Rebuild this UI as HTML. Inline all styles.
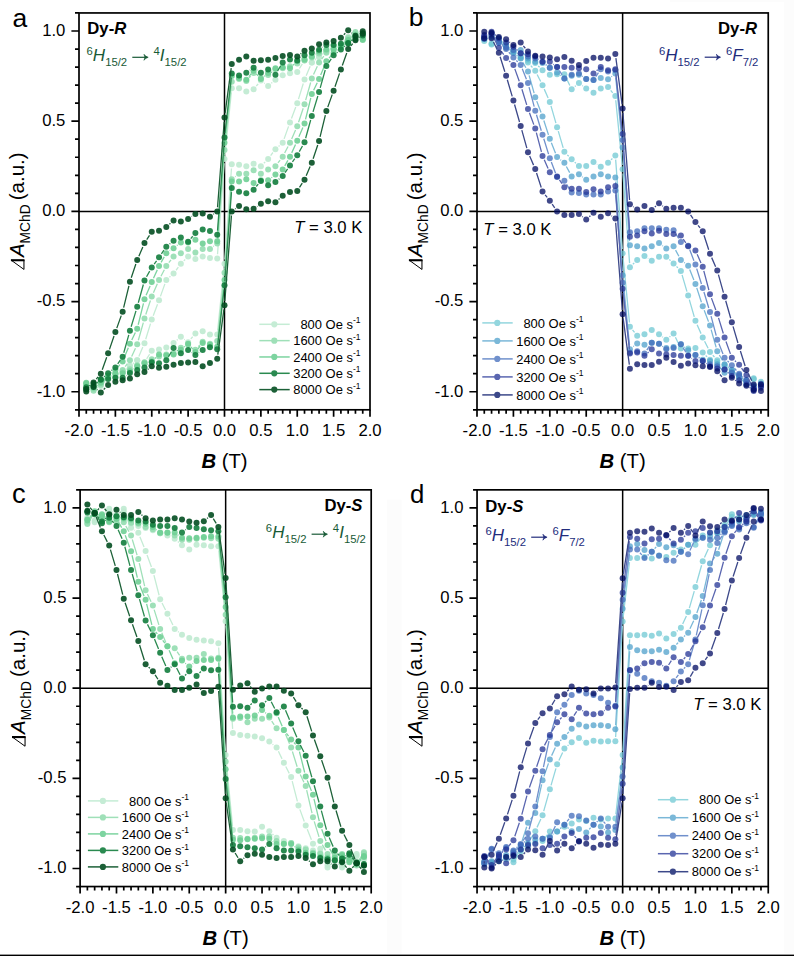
<!DOCTYPE html>
<html><head><meta charset="utf-8"><title>MChD hysteresis</title>
<style>html,body{margin:0;padding:0;background:#fff;}body{width:794px;height:956px;overflow:hidden;font-family:"Liberation Sans", sans-serif;}svg{display:block;}</style>
</head><body>
<svg width="794" height="956" viewBox="0 0 794 956" font-family='"Liberation Sans", sans-serif' fill="#000">
<rect width="794" height="956" fill="#fff"/>
<rect x="670" y="0" width="124" height="1.8" fill="#fcfcfc"/><rect x="784.2" y="0" width="9.8" height="953.6" fill="#fcfcfc"/><rect x="387" y="499.6" width="14.5" height="454" fill="#fcfcfc"/>
<rect x="0" y="954.6" width="794" height="1.4" fill="#000"/>
<path d="M224.5 12.95V409.8M79 211.38H370" stroke="#000" stroke-width="1.5" fill="none"/>
<path d="M345.23 39.76L343.85 41.16M337.53 46.66L336.99 47.06M322.98 53.16L322.44 53.56M315.9 58.82L314.97 59.62M302.34 63.8L299.44 68.53M272.25 82.45L271.32 83.25M264.78 83.5L264.24 83.1M258.17 83.81L256.3 86.04M231.35 92.35L224.93 154.88M224.19 163.25L217.53 254.27M185.18 259.47L183.8 260.87M178.34 267.23L176.09 270.24M170.4 276.36L169.47 277.17M164.89 283.88L160.44 296.35M157.54 304.24L153.23 315.68M150.51 323.62L145.71 339.22M142.83 347.1L138.84 356.51M133.79 362.83L133.33 363.15M126.56 368.11L126.02 368.51M104.93 380.99L104 381.79M103.77 382.99L105.15 381.59M111.47 376.09L112.01 375.69M126.02 369.59L126.56 369.19M133.1 363.93L134.03 363.13M146.66 358.95L149.56 354.22M176.75 340.3L177.68 339.5M184.22 339.25L184.76 339.65M190.83 338.94L192.7 336.71M217.65 330.4L224.07 267.87M224.81 259.5L231.47 168.48M263.82 163.28L265.2 161.88M270.66 155.52L272.91 152.51M278.6 146.39L279.53 145.58M284.11 138.87L288.56 126.4M291.46 118.51L295.77 107.07M298.49 99.13L303.29 83.53M306.17 75.65L310.16 66.24M315.21 59.92L315.67 59.6M322.44 54.64L322.98 54.24M344.07 41.76L345 40.96" stroke="#c5ecd5" stroke-width="1.3" fill="none"/>
<g fill="#bfead0" fill-opacity="0.9"><circle cx="362.73" cy="37.84" r="3"/><circle cx="355.45" cy="33.51" r="3"/><circle cx="348.18" cy="36.76" r="3"/><circle cx="340.9" cy="44.16" r="3"/><circle cx="333.62" cy="49.57" r="3"/><circle cx="326.35" cy="50.65" r="3"/><circle cx="319.07" cy="56.06" r="3"/><circle cx="311.8" cy="62.38" r="3"/><circle cx="304.52" cy="60.21" r="3"/><circle cx="297.25" cy="72.12" r="3"/><circle cx="289.98" cy="73.2" r="3"/><circle cx="282.7" cy="75.36" r="3"/><circle cx="275.43" cy="79.69" r="3"/><circle cx="268.15" cy="86.01" r="3"/><circle cx="260.88" cy="80.59" r="3"/><circle cx="253.6" cy="89.25" r="3"/><circle cx="246.32" cy="91.42" r="3"/><circle cx="239.05" cy="88.17" r="3"/><circle cx="231.78" cy="88.17" r="3"/><circle cx="224.5" cy="159.06" r="3"/><circle cx="217.22" cy="258.46" r="3"/><circle cx="209.95" cy="258.1" r="3"/><circle cx="202.68" cy="256.47" r="3"/><circle cx="195.4" cy="259" r="3"/><circle cx="188.12" cy="256.47" r="3"/><circle cx="180.85" cy="263.87" r="3"/><circle cx="173.57" cy="273.61" r="3"/><circle cx="166.3" cy="279.92" r="3"/><circle cx="159.03" cy="300.31" r="3"/><circle cx="151.75" cy="319.61" r="3"/><circle cx="144.47" cy="343.24" r="3"/><circle cx="137.2" cy="360.37" r="3"/><circle cx="129.93" cy="365.61" r="3"/><circle cx="122.65" cy="371.02" r="3"/><circle cx="115.38" cy="373.72" r="3"/><circle cx="108.1" cy="378.23" r="3"/><circle cx="100.82" cy="384.55" r="3"/><circle cx="93.55" cy="387.25" r="3"/><circle cx="86.27" cy="383.64" r="3"/><circle cx="86.27" cy="384.91" r="3"/><circle cx="93.55" cy="389.24" r="3"/><circle cx="100.82" cy="385.99" r="3"/><circle cx="108.1" cy="378.59" r="3"/><circle cx="115.38" cy="373.18" r="3"/><circle cx="122.65" cy="372.1" r="3"/><circle cx="129.93" cy="366.69" r="3"/><circle cx="137.2" cy="360.37" r="3"/><circle cx="144.47" cy="362.54" r="3"/><circle cx="151.75" cy="350.63" r="3"/><circle cx="159.03" cy="349.55" r="3"/><circle cx="166.3" cy="347.39" r="3"/><circle cx="173.57" cy="343.06" r="3"/><circle cx="180.85" cy="336.74" r="3"/><circle cx="188.12" cy="342.16" r="3"/><circle cx="195.4" cy="333.5" r="3"/><circle cx="202.68" cy="331.33" r="3"/><circle cx="209.95" cy="334.58" r="3"/><circle cx="217.22" cy="334.58" r="3"/><circle cx="224.5" cy="263.69" r="3"/><circle cx="231.78" cy="164.29" r="3"/><circle cx="239.05" cy="164.65" r="3"/><circle cx="246.32" cy="166.28" r="3"/><circle cx="253.6" cy="163.75" r="3"/><circle cx="260.88" cy="166.28" r="3"/><circle cx="268.15" cy="158.88" r="3"/><circle cx="275.43" cy="149.14" r="3"/><circle cx="282.7" cy="142.83" r="3"/><circle cx="289.98" cy="122.44" r="3"/><circle cx="297.25" cy="103.14" r="3"/><circle cx="304.52" cy="79.51" r="3"/><circle cx="311.8" cy="62.38" r="3"/><circle cx="319.07" cy="57.14" r="3"/><circle cx="326.35" cy="51.73" r="3"/><circle cx="333.62" cy="49.03" r="3"/><circle cx="340.9" cy="44.52" r="3"/><circle cx="348.18" cy="38.2" r="3"/><circle cx="355.45" cy="35.5" r="3"/><circle cx="362.73" cy="39.11" r="3"/></g>
<path d="M352.2 34.73L351.43 35.36M345.3 41.09L343.77 42.72M330.13 48.12L329.84 48.31M272.13 71.84L271.44 72.39M257.38 75.55L257.09 75.36M250.76 76.11L249.16 77.86M231.33 86.03L224.95 145.87M224.17 154.23L217.55 239.3M213.86 245.99L213.32 246.39M171.03 259.81L168.84 262.69M164.35 269.75L160.97 276.2M157.34 283.77L153.44 292.67M150.43 300.51L145.79 314.54M143.33 322.57L138.34 340.28M135.47 348.15L131.66 356.55M127.38 363.72L125.19 366.59M104.93 379.18L104 379.99M97.65 385.49L96.72 386.3M96.8 388.02L97.57 387.39M103.7 381.66L105.23 380.03M118.87 374.63L119.16 374.44M176.87 350.91L177.56 350.36M191.62 347.2L191.91 347.39M198.24 346.64L199.84 344.89M217.67 336.72L224.05 276.88M224.83 268.52L231.45 183.45M235.14 176.76L235.68 176.36M277.97 162.94L280.16 160.06M284.65 153L288.03 146.55M291.66 138.98L295.56 130.08M298.57 122.24L303.21 108.21M305.67 100.18L310.66 82.47M313.53 74.6L317.34 66.2M321.62 59.03L323.81 56.16M344.07 43.57L345 42.76M351.35 37.26L352.28 36.45" stroke="#9fe0b8" stroke-width="1.3" fill="none"/>
<g fill="#94ddb0" fill-opacity="0.9"><circle cx="362.73" cy="34.06" r="3"/><circle cx="355.45" cy="32.07" r="3"/><circle cx="348.18" cy="38.02" r="3"/><circle cx="340.9" cy="45.78" r="3"/><circle cx="333.62" cy="45.78" r="3"/><circle cx="326.35" cy="50.65" r="3"/><circle cx="319.07" cy="53.54" r="3"/><circle cx="311.8" cy="57.51" r="3"/><circle cx="304.52" cy="60.39" r="3"/><circle cx="297.25" cy="63.46" r="3"/><circle cx="289.98" cy="66.16" r="3"/><circle cx="282.7" cy="68.15" r="3"/><circle cx="275.43" cy="69.23" r="3"/><circle cx="268.15" cy="75" r="3"/><circle cx="260.88" cy="77.89" r="3"/><circle cx="253.6" cy="73.02" r="3"/><circle cx="246.32" cy="80.96" r="3"/><circle cx="239.05" cy="78.97" r="3"/><circle cx="231.78" cy="81.86" r="3"/><circle cx="224.5" cy="150.04" r="3"/><circle cx="217.22" cy="243.48" r="3"/><circle cx="209.95" cy="248.9" r="3"/><circle cx="202.68" cy="248.9" r="3"/><circle cx="195.4" cy="252.5" r="3"/><circle cx="188.12" cy="248.9" r="3"/><circle cx="180.85" cy="253.22" r="3"/><circle cx="173.57" cy="256.47" r="3"/><circle cx="166.3" cy="266.03" r="3"/><circle cx="159.03" cy="279.92" r="3"/><circle cx="151.75" cy="296.52" r="3"/><circle cx="144.47" cy="318.52" r="3"/><circle cx="137.2" cy="344.32" r="3"/><circle cx="129.93" cy="360.37" r="3"/><circle cx="122.65" cy="369.93" r="3"/><circle cx="115.38" cy="374.62" r="3"/><circle cx="108.1" cy="376.43" r="3"/><circle cx="100.82" cy="382.74" r="3"/><circle cx="93.55" cy="389.06" r="3"/><circle cx="86.27" cy="387.25" r="3"/><circle cx="86.27" cy="388.69" r="3"/><circle cx="93.55" cy="390.68" r="3"/><circle cx="100.82" cy="384.73" r="3"/><circle cx="108.1" cy="376.97" r="3"/><circle cx="115.38" cy="376.97" r="3"/><circle cx="122.65" cy="372.1" r="3"/><circle cx="129.93" cy="369.21" r="3"/><circle cx="137.2" cy="365.24" r="3"/><circle cx="144.47" cy="362.36" r="3"/><circle cx="151.75" cy="359.29" r="3"/><circle cx="159.03" cy="356.59" r="3"/><circle cx="166.3" cy="354.6" r="3"/><circle cx="173.57" cy="353.52" r="3"/><circle cx="180.85" cy="347.75" r="3"/><circle cx="188.12" cy="344.86" r="3"/><circle cx="195.4" cy="349.73" r="3"/><circle cx="202.68" cy="341.79" r="3"/><circle cx="209.95" cy="343.78" r="3"/><circle cx="217.22" cy="340.89" r="3"/><circle cx="224.5" cy="272.71" r="3"/><circle cx="231.78" cy="179.27" r="3"/><circle cx="239.05" cy="173.85" r="3"/><circle cx="246.32" cy="173.85" r="3"/><circle cx="253.6" cy="170.25" r="3"/><circle cx="260.88" cy="173.85" r="3"/><circle cx="268.15" cy="169.53" r="3"/><circle cx="275.43" cy="166.28" r="3"/><circle cx="282.7" cy="156.72" r="3"/><circle cx="289.98" cy="142.83" r="3"/><circle cx="297.25" cy="126.23" r="3"/><circle cx="304.52" cy="104.23" r="3"/><circle cx="311.8" cy="78.43" r="3"/><circle cx="319.07" cy="62.38" r="3"/><circle cx="326.35" cy="52.82" r="3"/><circle cx="333.62" cy="48.13" r="3"/><circle cx="340.9" cy="46.32" r="3"/><circle cx="348.18" cy="40.01" r="3"/><circle cx="355.45" cy="33.69" r="3"/><circle cx="362.73" cy="35.5" r="3"/></g>
<path d="M352 37.35L351.63 37.61M344.88 42.62L344.19 43.17M315.58 53.89L315.29 54.09M294.19 64.17L293.03 65.27M271.93 70.48L271.64 70.68M264.9 75.68L264.13 76.31M258.11 75.81L256.37 73.83M250.99 73.97L248.93 76.58M231.32 80.26L224.96 138.65M224.19 147.02L217.53 237.13M177.56 245.01L176.87 245.56M170.12 250.57L169.75 250.83M164.23 256.88L161.1 262.38M157.29 269.86L153.48 278.26M150.11 285.95L146.12 295.36M143.47 303.3L138.2 324.73M135.36 332.58L131.76 340M128.33 347.66L124.25 357.57M119.95 364.67L118.08 366.9M112.01 372.62L111.47 373.02M104.73 378.03L104.19 378.43M97.46 383.44L96.92 383.84M97 385.4L97.37 385.14M104.12 380.13L104.81 379.58M133.42 368.86L133.71 368.66M154.81 358.58L155.97 357.48M177.07 352.27L177.36 352.07M184.1 347.07L184.87 346.44M190.89 346.94L192.63 348.92M198.01 348.78L200.07 346.17M217.68 342.49L224.04 284.1M224.81 275.73L231.47 185.62M271.44 177.74L272.13 177.19M278.88 172.18L279.25 171.92M284.77 165.87L287.9 160.37M291.71 152.89L295.52 144.49M298.89 136.8L302.88 127.39M305.53 119.45L310.8 98.02M313.64 90.17L317.24 82.75M320.67 75.09L324.75 65.18M329.05 58.08L330.92 55.85M336.99 50.13L337.53 49.73M344.27 44.72L344.81 44.32M351.54 39.31L352.08 38.91" stroke="#7dd4a0" stroke-width="1.3" fill="none"/>
<g fill="#6fcf95" fill-opacity="0.9"><circle cx="362.73" cy="38.93" r="3"/><circle cx="355.45" cy="34.96" r="3"/><circle cx="348.18" cy="40.01" r="3"/><circle cx="340.9" cy="45.78" r="3"/><circle cx="333.62" cy="49.57" r="3"/><circle cx="326.35" cy="49.57" r="3"/><circle cx="319.07" cy="51.55" r="3"/><circle cx="311.8" cy="56.42" r="3"/><circle cx="304.52" cy="59.49" r="3"/><circle cx="297.25" cy="61.29" r="3"/><circle cx="289.98" cy="68.15" r="3"/><circle cx="282.7" cy="67.25" r="3"/><circle cx="275.43" cy="68.15" r="3"/><circle cx="268.15" cy="73.02" r="3"/><circle cx="260.88" cy="78.97" r="3"/><circle cx="253.6" cy="70.67" r="3"/><circle cx="246.32" cy="79.87" r="3"/><circle cx="239.05" cy="77.89" r="3"/><circle cx="231.78" cy="76.09" r="3"/><circle cx="224.5" cy="142.83" r="3"/><circle cx="217.22" cy="241.32" r="3"/><circle cx="209.95" cy="241.32" r="3"/><circle cx="202.68" cy="243.48" r="3"/><circle cx="195.4" cy="239.7" r="3"/><circle cx="188.12" cy="242.4" r="3"/><circle cx="180.85" cy="242.4" r="3"/><circle cx="173.57" cy="248.17" r="3"/><circle cx="166.3" cy="253.22" r="3"/><circle cx="159.03" cy="266.03" r="3"/><circle cx="151.75" cy="282.09" r="3"/><circle cx="144.47" cy="299.22" r="3"/><circle cx="137.2" cy="328.81" r="3"/><circle cx="129.93" cy="343.78" r="3"/><circle cx="122.65" cy="361.46" r="3"/><circle cx="115.38" cy="370.11" r="3"/><circle cx="108.1" cy="375.53" r="3"/><circle cx="100.82" cy="380.94" r="3"/><circle cx="93.55" cy="386.35" r="3"/><circle cx="86.27" cy="382.74" r="3"/><circle cx="86.27" cy="383.82" r="3"/><circle cx="93.55" cy="387.79" r="3"/><circle cx="100.82" cy="382.74" r="3"/><circle cx="108.1" cy="376.97" r="3"/><circle cx="115.38" cy="373.18" r="3"/><circle cx="122.65" cy="373.18" r="3"/><circle cx="129.93" cy="371.2" r="3"/><circle cx="137.2" cy="366.33" r="3"/><circle cx="144.47" cy="363.26" r="3"/><circle cx="151.75" cy="361.46" r="3"/><circle cx="159.03" cy="354.6" r="3"/><circle cx="166.3" cy="355.5" r="3"/><circle cx="173.57" cy="354.6" r="3"/><circle cx="180.85" cy="349.73" r="3"/><circle cx="188.12" cy="343.78" r="3"/><circle cx="195.4" cy="352.08" r="3"/><circle cx="202.68" cy="342.88" r="3"/><circle cx="209.95" cy="344.86" r="3"/><circle cx="217.22" cy="346.66" r="3"/><circle cx="224.5" cy="279.92" r="3"/><circle cx="231.78" cy="181.43" r="3"/><circle cx="239.05" cy="181.43" r="3"/><circle cx="246.32" cy="179.27" r="3"/><circle cx="253.6" cy="183.05" r="3"/><circle cx="260.88" cy="180.35" r="3"/><circle cx="268.15" cy="180.35" r="3"/><circle cx="275.43" cy="174.58" r="3"/><circle cx="282.7" cy="169.53" r="3"/><circle cx="289.98" cy="156.72" r="3"/><circle cx="297.25" cy="140.66" r="3"/><circle cx="304.52" cy="123.53" r="3"/><circle cx="311.8" cy="93.94" r="3"/><circle cx="319.07" cy="78.97" r="3"/><circle cx="326.35" cy="61.29" r="3"/><circle cx="333.62" cy="52.64" r="3"/><circle cx="340.9" cy="47.22" r="3"/><circle cx="348.18" cy="41.81" r="3"/><circle cx="355.45" cy="36.4" r="3"/><circle cx="362.73" cy="40.01" r="3"/></g>
<path d="M352.36 39.78L351.27 40.78M322.86 47.21L322.57 47.41M301.12 57.61L300.66 57.94M280.56 65.99L277.57 71.03M271.97 72.25L271.6 71.99M257.38 70.32L257.09 70.12M250.11 70.12L249.82 70.32M231.3 77.55L224.97 133.24M224.19 141.6L217.54 230.64M192.73 236.26L190.79 238.62M170.32 243.44L169.55 244.07M163.93 250.2L161.4 253.91M156.57 260.78L154.2 264.07M149.7 271.14L146.53 276.8M143.36 284.51L138.32 302.75M135.98 310.82L131.14 326.77M128.79 334.84L123.78 352.72M120.28 360.23L117.75 363.94M112.08 370.02L111.39 370.57M104.97 375.98L103.96 376.88M96.64 382.97L97.73 381.97M126.14 375.54L126.43 375.34M147.88 365.14L148.34 364.81M168.44 356.76L171.43 351.72M177.03 350.5L177.4 350.76M191.62 352.43L191.91 352.63M198.89 352.63L199.18 352.43M217.7 345.2L224.03 289.51M224.81 281.15L231.46 192.11M256.27 186.49L258.21 184.13M278.68 179.31L279.45 178.68M285.07 172.55L287.6 168.84M292.43 161.97L294.8 158.68M299.3 151.61L302.47 145.95M305.64 138.24L310.68 120M313.02 111.93L317.86 95.98M320.21 87.91L325.22 70.03M328.72 62.52L331.25 58.81M336.92 52.73L337.61 52.18M344.03 46.77L345.04 45.87" stroke="#2a8a50" stroke-width="1.3" fill="none"/>
<g fill="#127d3d" fill-opacity="0.9"><circle cx="362.73" cy="33.15" r="3"/><circle cx="355.45" cy="36.94" r="3"/><circle cx="348.18" cy="43.62" r="3"/><circle cx="340.9" cy="43.8" r="3"/><circle cx="333.62" cy="44.88" r="3"/><circle cx="326.35" cy="44.88" r="3"/><circle cx="319.07" cy="49.75" r="3"/><circle cx="311.8" cy="52.64" r="3"/><circle cx="304.52" cy="55.16" r="3"/><circle cx="297.25" cy="60.39" r="3"/><circle cx="289.98" cy="59.49" r="3"/><circle cx="282.7" cy="62.38" r="3"/><circle cx="275.43" cy="74.64" r="3"/><circle cx="268.15" cy="69.59" r="3"/><circle cx="260.88" cy="72.66" r="3"/><circle cx="253.6" cy="67.79" r="3"/><circle cx="246.32" cy="72.66" r="3"/><circle cx="239.05" cy="75.54" r="3"/><circle cx="231.78" cy="73.38" r="3"/><circle cx="224.5" cy="137.42" r="3"/><circle cx="217.22" cy="234.83" r="3"/><circle cx="209.95" cy="231.04" r="3"/><circle cx="202.68" cy="229.41" r="3"/><circle cx="195.4" cy="233.02" r="3"/><circle cx="188.12" cy="241.86" r="3"/><circle cx="180.85" cy="237.53" r="3"/><circle cx="173.57" cy="240.78" r="3"/><circle cx="166.3" cy="246.73" r="3"/><circle cx="159.03" cy="257.37" r="3"/><circle cx="151.75" cy="267.48" r="3"/><circle cx="144.47" cy="280.46" r="3"/><circle cx="137.2" cy="306.8" r="3"/><circle cx="129.93" cy="330.79" r="3"/><circle cx="122.65" cy="356.77" r="3"/><circle cx="115.38" cy="367.41" r="3"/><circle cx="108.1" cy="373.18" r="3"/><circle cx="100.82" cy="379.68" r="3"/><circle cx="93.55" cy="383.64" r="3"/><circle cx="86.27" cy="387.25" r="3"/><circle cx="86.27" cy="389.6" r="3"/><circle cx="93.55" cy="385.81" r="3"/><circle cx="100.82" cy="379.13" r="3"/><circle cx="108.1" cy="378.95" r="3"/><circle cx="115.38" cy="377.87" r="3"/><circle cx="122.65" cy="377.87" r="3"/><circle cx="129.93" cy="373" r="3"/><circle cx="137.2" cy="370.11" r="3"/><circle cx="144.47" cy="367.59" r="3"/><circle cx="151.75" cy="362.36" r="3"/><circle cx="159.03" cy="363.26" r="3"/><circle cx="166.3" cy="360.37" r="3"/><circle cx="173.57" cy="348.11" r="3"/><circle cx="180.85" cy="353.16" r="3"/><circle cx="188.12" cy="350.09" r="3"/><circle cx="195.4" cy="354.96" r="3"/><circle cx="202.68" cy="350.09" r="3"/><circle cx="209.95" cy="347.21" r="3"/><circle cx="217.22" cy="349.37" r="3"/><circle cx="224.5" cy="285.33" r="3"/><circle cx="231.78" cy="187.92" r="3"/><circle cx="239.05" cy="191.71" r="3"/><circle cx="246.32" cy="193.34" r="3"/><circle cx="253.6" cy="189.73" r="3"/><circle cx="260.88" cy="180.89" r="3"/><circle cx="268.15" cy="185.22" r="3"/><circle cx="275.43" cy="181.97" r="3"/><circle cx="282.7" cy="176.02" r="3"/><circle cx="289.98" cy="165.38" r="3"/><circle cx="297.25" cy="155.27" r="3"/><circle cx="304.52" cy="142.29" r="3"/><circle cx="311.8" cy="115.95" r="3"/><circle cx="319.07" cy="91.96" r="3"/><circle cx="326.35" cy="65.98" r="3"/><circle cx="333.62" cy="55.34" r="3"/><circle cx="340.9" cy="49.57" r="3"/><circle cx="348.18" cy="43.07" r="3"/><circle cx="355.45" cy="39.11" r="3"/><circle cx="362.73" cy="35.5" r="3"/></g>
<path d="M352.08 33.17L351.54 32.77M345.27 33.3L343.81 34.81M301.27 53.31L300.5 53.94M231.21 68.16L225.07 113.41M224.18 121.76L217.55 207.19M213.86 213.88L213.32 214.28M191.95 216.3L191.58 216.56M170.4 223.33L169.47 224.14M149.49 235.3L146.74 239.59M142.82 246.98L138.86 256.22M135.86 264.06L131.26 277.74M128.93 285.81L123.64 307.59M121.24 315.63L116.79 328.1M114.02 336.03L109.46 349.36M106.69 357.29L102.24 369.77M98.12 376.94L96.25 379.17M90.42 385.18L89.41 386.08M96.92 389.58L97.46 389.98M103.73 389.45L105.19 387.94M147.73 369.44L148.5 368.81M217.79 354.59L223.93 309.34M224.82 300.99L231.45 215.56M235.14 208.87L235.68 208.47M257.05 206.45L257.42 206.19M278.6 199.42L279.53 198.61M299.51 187.45L302.26 183.16M306.18 175.77L310.14 166.53M313.14 158.69L317.74 145.01M320.07 136.94L325.36 115.16M327.76 107.12L332.21 94.65M334.98 86.72L339.54 73.39M342.31 65.46L346.76 52.98M350.88 45.81L352.75 43.58M358.58 37.57L359.59 36.67" stroke="#1c6037" stroke-width="1.3" fill="none"/>
<g fill="#034e21" fill-opacity="0.9"><circle cx="362.73" cy="31.35" r="3"/><circle cx="355.45" cy="35.68" r="3"/><circle cx="348.18" cy="30.27" r="3"/><circle cx="340.9" cy="37.84" r="3"/><circle cx="333.62" cy="40.91" r="3"/><circle cx="326.35" cy="42.53" r="3"/><circle cx="319.07" cy="44.16" r="3"/><circle cx="311.8" cy="48.49" r="3"/><circle cx="304.52" cy="50.65" r="3"/><circle cx="297.25" cy="56.6" r="3"/><circle cx="289.98" cy="54.98" r="3"/><circle cx="282.7" cy="56.06" r="3"/><circle cx="275.43" cy="58.05" r="3"/><circle cx="268.15" cy="59.85" r="3"/><circle cx="260.88" cy="60.21" r="3"/><circle cx="253.6" cy="60.75" r="3"/><circle cx="246.32" cy="56.42" r="3"/><circle cx="239.05" cy="59.67" r="3"/><circle cx="231.78" cy="64" r="3"/><circle cx="224.5" cy="117.57" r="3"/><circle cx="217.22" cy="211.38" r="3"/><circle cx="209.95" cy="216.79" r="3"/><circle cx="202.68" cy="213.54" r="3"/><circle cx="195.4" cy="213.9" r="3"/><circle cx="188.12" cy="218.95" r="3"/><circle cx="180.85" cy="221.48" r="3"/><circle cx="173.57" cy="220.57" r="3"/><circle cx="166.3" cy="226.89" r="3"/><circle cx="159.03" cy="230.68" r="3"/><circle cx="151.75" cy="231.76" r="3"/><circle cx="144.47" cy="243.12" r="3"/><circle cx="137.2" cy="260.08" r="3"/><circle cx="129.93" cy="281.73" r="3"/><circle cx="122.65" cy="311.67" r="3"/><circle cx="115.38" cy="332.05" r="3"/><circle cx="108.1" cy="353.34" r="3"/><circle cx="100.82" cy="373.72" r="3"/><circle cx="93.55" cy="382.38" r="3"/><circle cx="86.27" cy="388.88" r="3"/><circle cx="86.27" cy="391.4" r="3"/><circle cx="93.55" cy="387.07" r="3"/><circle cx="100.82" cy="392.48" r="3"/><circle cx="108.1" cy="384.91" r="3"/><circle cx="115.38" cy="381.84" r="3"/><circle cx="122.65" cy="380.22" r="3"/><circle cx="129.93" cy="378.59" r="3"/><circle cx="137.2" cy="374.26" r="3"/><circle cx="144.47" cy="372.1" r="3"/><circle cx="151.75" cy="366.15" r="3"/><circle cx="159.03" cy="367.77" r="3"/><circle cx="166.3" cy="366.69" r="3"/><circle cx="173.57" cy="364.7" r="3"/><circle cx="180.85" cy="362.9" r="3"/><circle cx="188.12" cy="362.54" r="3"/><circle cx="195.4" cy="362" r="3"/><circle cx="202.68" cy="366.33" r="3"/><circle cx="209.95" cy="363.08" r="3"/><circle cx="217.22" cy="358.75" r="3"/><circle cx="224.5" cy="305.18" r="3"/><circle cx="231.78" cy="211.38" r="3"/><circle cx="239.05" cy="205.96" r="3"/><circle cx="246.32" cy="209.21" r="3"/><circle cx="253.6" cy="208.85" r="3"/><circle cx="260.88" cy="203.8" r="3"/><circle cx="268.15" cy="201.27" r="3"/><circle cx="275.43" cy="202.18" r="3"/><circle cx="282.7" cy="195.86" r="3"/><circle cx="289.98" cy="192.07" r="3"/><circle cx="297.25" cy="190.99" r="3"/><circle cx="304.52" cy="179.63" r="3"/><circle cx="311.8" cy="162.67" r="3"/><circle cx="319.07" cy="141.02" r="3"/><circle cx="326.35" cy="111.08" r="3"/><circle cx="333.62" cy="90.7" r="3"/><circle cx="340.9" cy="69.41" r="3"/><circle cx="348.18" cy="49.03" r="3"/><circle cx="355.45" cy="40.37" r="3"/><circle cx="362.73" cy="33.87" r="3"/></g>
<rect x="79" y="12.95" width="291" height="396.85" fill="none" stroke="#000" stroke-width="1.7"/>
<path d="M79 409.8v7M86.28 409.8v3.9M93.55 409.8v3.9M100.83 409.8v3.9M108.1 409.8v3.9M115.38 409.8v7M122.65 409.8v3.9M129.93 409.8v3.9M137.2 409.8v3.9M144.47 409.8v3.9M151.75 409.8v7M159.03 409.8v3.9M166.3 409.8v3.9M173.57 409.8v3.9M180.85 409.8v3.9M188.12 409.8v7M195.4 409.8v3.9M202.68 409.8v3.9M209.95 409.8v3.9M217.23 409.8v3.9M224.5 409.8v7M231.78 409.8v3.9M239.05 409.8v3.9M246.33 409.8v3.9M253.6 409.8v3.9M260.88 409.8v7M268.15 409.8v3.9M275.43 409.8v3.9M282.7 409.8v3.9M289.98 409.8v3.9M297.25 409.8v7M304.52 409.8v3.9M311.8 409.8v3.9M319.08 409.8v3.9M326.35 409.8v3.9M333.62 409.8v7M340.9 409.8v3.9M348.18 409.8v3.9M355.45 409.8v3.9M362.73 409.8v3.9M370 409.8v7M79 409.8h-4M79 391.76h-7.6M79 373.72h-4M79 355.68h-4M79 337.65h-4M79 319.61h-4M79 301.57h-7.6M79 283.53h-4M79 265.49h-4M79 247.45h-4M79 229.41h-4M79 211.38h-7.6M79 193.34h-4M79 175.3h-4M79 157.26h-4M79 139.22h-4M79 121.18h-7.6M79 103.14h-4M79 85.1h-4M79 67.07h-4M79 49.03h-4M79 30.99h-7.6M79 12.95h-4" stroke="#000" stroke-width="1.7" fill="none"/>
<text x="79" y="436" text-anchor="middle" font-size="16.7">-2.0</text>
<text x="115.38" y="436" text-anchor="middle" font-size="16.7">-1.5</text>
<text x="151.75" y="436" text-anchor="middle" font-size="16.7">-1.0</text>
<text x="188.12" y="436" text-anchor="middle" font-size="16.7">-0.5</text>
<text x="224.5" y="436" text-anchor="middle" font-size="16.7">0.0</text>
<text x="260.88" y="436" text-anchor="middle" font-size="16.7">0.5</text>
<text x="297.25" y="436" text-anchor="middle" font-size="16.7">1.0</text>
<text x="333.62" y="436" text-anchor="middle" font-size="16.7">1.5</text>
<text x="370" y="436" text-anchor="middle" font-size="16.7">2.0</text>
<text x="65.4" y="396.56" text-anchor="end" font-size="16.7">-1.0</text>
<text x="65.4" y="306.37" text-anchor="end" font-size="16.7">-0.5</text>
<text x="65.4" y="216.18" text-anchor="end" font-size="16.7">0.0</text>
<text x="65.4" y="125.98" text-anchor="end" font-size="16.7">0.5</text>
<text x="65.4" y="35.79" text-anchor="end" font-size="16.7">1.0</text>
<text x="224.5" y="467.8" text-anchor="middle" font-size="20.3"><tspan font-weight="bold" font-style="italic">B</tspan> (T)</text>
<g transform="translate(23.6 211.38) rotate(-90)"><path d="M-58.1 0.35H-48.6" stroke="#000" stroke-width="1.05" fill="none"/><path d="M-58 0.3L-48.9 -12.3" stroke="#000" stroke-width="1.0" fill="none"/><path d="M-48.85 0.9V-12.7" stroke="#000" stroke-width="2.1" fill="none"/><text x="-45.7" y="0" font-size="20.5"><tspan font-style="italic">A</tspan><tspan font-size="13.8" dy="6">MChD</tspan><tspan dy="-6" dx="-1.6"> (a.u.)</tspan></text></g>
<path d="M622.62 12.95V409.8M477 211.38H768.25" stroke="#000" stroke-width="1.5" fill="none"/>
<path d="M494.93 41.11L495.47 40.71M501.75 41.23L503.21 42.75M509.54 48.23L510 48.56M516.78 53.52L517.32 53.92M538.2 65.91L539.58 67.32M566.21 78.06L569.82 85.48M574.87 86.55L575.73 85.83M582.31 85.63L582.85 86.03M610.7 90.36L612.71 92.84M615.76 100.29L622.21 165.17M622.94 173.53L629.59 263.11M632.85 264.3L634.24 262.89M647.96 258.27L648.26 258.47M669.37 259.53L670.54 260.63M676.54 266.5L677.93 267.91M682.06 274.93L686.97 291.59M689.32 299.65L694.27 316.83M697.12 324.72L701.03 333.62M704.59 341.22L708.13 348.32M712.8 355.2L714.48 357.07M727.93 367.21L728.47 367.61M735.21 372.62L735.75 373.02M742.11 378.48L743.42 379.79M750.32 381.64L749.78 382.04M743.5 381.52L742.04 380M735.71 374.52L735.25 374.19M728.47 369.23L727.93 368.83M707.05 356.84L705.67 355.43M679.04 344.69L675.43 337.27M670.38 336.2L669.52 336.92M662.94 337.12L662.4 336.72M634.55 332.39L632.54 329.91M629.49 322.46L623.04 257.58M622.31 249.22L615.66 159.64M612.4 158.45L611.01 159.86M597.29 164.48L596.99 164.28M575.88 163.22L574.71 162.12M568.71 156.25L567.32 154.84M563.19 147.82L558.28 131.16M555.93 123.1L550.98 105.92M548.13 98.03L544.22 89.13M540.66 81.53L537.12 74.43M532.45 67.55L530.77 65.68M517.32 55.54L516.78 55.14M510.04 50.13L509.5 49.73M503.14 44.27L501.83 42.96" stroke="#93d6de" stroke-width="1.3" fill="none"/>
<g fill="#6fc8d3" fill-opacity="0.75"><circle cx="484.28" cy="39.29" r="3"/><circle cx="491.56" cy="43.62" r="3"/><circle cx="498.84" cy="38.2" r="3"/><circle cx="506.12" cy="45.78" r="3"/><circle cx="513.41" cy="51.01" r="3"/><circle cx="520.69" cy="56.42" r="3"/><circle cx="527.97" cy="60.75" r="3"/><circle cx="535.25" cy="62.92" r="3"/><circle cx="542.53" cy="70.31" r="3"/><circle cx="549.81" cy="74.64" r="3"/><circle cx="557.09" cy="74.28" r="3"/><circle cx="564.38" cy="74.28" r="3"/><circle cx="571.66" cy="89.25" r="3"/><circle cx="578.94" cy="83.12" r="3"/><circle cx="586.22" cy="88.53" r="3"/><circle cx="593.5" cy="92.86" r="3"/><circle cx="600.78" cy="88.53" r="3"/><circle cx="608.06" cy="87.09" r="3"/><circle cx="615.34" cy="96.11" r="3"/><circle cx="622.62" cy="169.34" r="3"/><circle cx="629.91" cy="267.29" r="3"/><circle cx="637.19" cy="259.9" r="3"/><circle cx="644.47" cy="255.93" r="3"/><circle cx="651.75" cy="260.8" r="3"/><circle cx="659.03" cy="256.65" r="3"/><circle cx="666.31" cy="256.65" r="3"/><circle cx="673.59" cy="263.51" r="3"/><circle cx="680.88" cy="270.9" r="3"/><circle cx="688.16" cy="295.62" r="3"/><circle cx="695.44" cy="320.87" r="3"/><circle cx="702.72" cy="337.47" r="3"/><circle cx="710" cy="352.08" r="3"/><circle cx="717.28" cy="360.19" r="3"/><circle cx="724.56" cy="364.7" r="3"/><circle cx="731.84" cy="370.11" r="3"/><circle cx="739.12" cy="375.53" r="3"/><circle cx="746.41" cy="382.74" r="3"/><circle cx="753.69" cy="378.23" r="3"/><circle cx="760.97" cy="381.84" r="3"/><circle cx="760.97" cy="383.46" r="3"/><circle cx="753.69" cy="379.13" r="3"/><circle cx="746.41" cy="384.55" r="3"/><circle cx="739.12" cy="376.97" r="3"/><circle cx="731.84" cy="371.74" r="3"/><circle cx="724.56" cy="366.33" r="3"/><circle cx="717.28" cy="362" r="3"/><circle cx="710" cy="359.83" r="3"/><circle cx="702.72" cy="352.44" r="3"/><circle cx="695.44" cy="348.11" r="3"/><circle cx="688.16" cy="348.47" r="3"/><circle cx="680.88" cy="348.47" r="3"/><circle cx="673.59" cy="333.5" r="3"/><circle cx="666.31" cy="339.63" r="3"/><circle cx="659.03" cy="334.22" r="3"/><circle cx="651.75" cy="329.89" r="3"/><circle cx="644.47" cy="334.22" r="3"/><circle cx="637.19" cy="335.66" r="3"/><circle cx="629.91" cy="326.64" r="3"/><circle cx="622.62" cy="253.41" r="3"/><circle cx="615.34" cy="155.46" r="3"/><circle cx="608.06" cy="162.85" r="3"/><circle cx="600.78" cy="166.82" r="3"/><circle cx="593.5" cy="161.95" r="3"/><circle cx="586.22" cy="166.1" r="3"/><circle cx="578.94" cy="166.1" r="3"/><circle cx="571.66" cy="159.24" r="3"/><circle cx="564.38" cy="151.85" r="3"/><circle cx="557.09" cy="127.13" r="3"/><circle cx="549.81" cy="101.88" r="3"/><circle cx="542.53" cy="85.28" r="3"/><circle cx="535.25" cy="70.67" r="3"/><circle cx="527.97" cy="62.56" r="3"/><circle cx="520.69" cy="58.05" r="3"/><circle cx="513.41" cy="52.64" r="3"/><circle cx="506.12" cy="47.22" r="3"/><circle cx="498.84" cy="40.01" r="3"/><circle cx="491.56" cy="44.52" r="3"/><circle cx="484.28" cy="40.91" r="3"/></g>
<path d="M494.93 38.54L495.47 38.95M509.3 47.45L510.23 48.26M523.39 53.14L525.27 55.37M546.02 65.25L546.32 65.45M560.35 75.14L561.12 75.77M611.35 76.72L612.05 76.17M615.76 77.74L622.21 143.34M622.94 151.71L629.59 241.1M662.4 245.63L662.94 246.03M675.58 250.07L678.88 256.2M684.17 262.51L684.87 263.06M689.71 269.57L693.88 279.99M696.74 287.88L701.42 302.26M704.2 310.19L708.52 321.63M711.14 329.6L716.14 347.31M719.36 355.01L722.49 360.51M727.81 366.82L728.59 367.46M735.02 372.87L735.95 373.68M749.78 382.54L750.32 382.94M750.32 384.21L749.78 383.8M735.95 375.3L735.02 374.49M721.86 369.61L719.98 367.38M699.23 357.5L698.93 357.3M684.9 347.61L684.13 346.98M633.9 346.03L633.2 346.58M629.49 345.01L623.04 279.41M622.31 271.04L615.66 181.65M582.85 177.12L582.31 176.72M569.67 172.68L566.37 166.55M561.08 160.24L560.38 159.69M555.54 153.18L551.37 142.76M548.51 134.87L543.83 120.49M541.05 112.56L536.73 101.12M534.11 93.15L529.11 75.44M525.89 67.74L522.76 62.24M517.44 55.93L516.66 55.29M510.23 49.88L509.3 49.07M495.47 40.21L494.93 39.81" stroke="#7bb8d8" stroke-width="1.3" fill="none"/>
<g fill="#4fa0cb" fill-opacity="0.75"><circle cx="484.28" cy="37.12" r="3"/><circle cx="491.56" cy="36.04" r="3"/><circle cx="498.84" cy="41.45" r="3"/><circle cx="506.12" cy="44.7" r="3"/><circle cx="513.41" cy="51.01" r="3"/><circle cx="520.69" cy="49.93" r="3"/><circle cx="527.97" cy="58.59" r="3"/><circle cx="535.25" cy="61.83" r="3"/><circle cx="542.53" cy="62.92" r="3"/><circle cx="549.81" cy="67.79" r="3"/><circle cx="557.09" cy="72.48" r="3"/><circle cx="564.38" cy="78.43" r="3"/><circle cx="571.66" cy="75.72" r="3"/><circle cx="578.94" cy="74.64" r="3"/><circle cx="586.22" cy="78.97" r="3"/><circle cx="593.5" cy="80.05" r="3"/><circle cx="600.78" cy="77.89" r="3"/><circle cx="608.06" cy="79.33" r="3"/><circle cx="615.34" cy="73.56" r="3"/><circle cx="622.62" cy="147.52" r="3"/><circle cx="629.91" cy="245.29" r="3"/><circle cx="637.19" cy="246.37" r="3"/><circle cx="644.47" cy="248.53" r="3"/><circle cx="651.75" cy="246.37" r="3"/><circle cx="659.03" cy="243.12" r="3"/><circle cx="666.31" cy="248.53" r="3"/><circle cx="673.59" cy="246.37" r="3"/><circle cx="680.88" cy="259.9" r="3"/><circle cx="688.16" cy="265.67" r="3"/><circle cx="695.44" cy="283.89" r="3"/><circle cx="702.72" cy="306.26" r="3"/><circle cx="710" cy="325.56" r="3"/><circle cx="717.28" cy="351.35" r="3"/><circle cx="724.56" cy="364.16" r="3"/><circle cx="731.84" cy="370.11" r="3"/><circle cx="739.12" cy="376.43" r="3"/><circle cx="746.41" cy="380.04" r="3"/><circle cx="753.69" cy="385.45" r="3"/><circle cx="760.97" cy="384.55" r="3"/><circle cx="760.97" cy="385.63" r="3"/><circle cx="753.69" cy="386.71" r="3"/><circle cx="746.41" cy="381.3" r="3"/><circle cx="739.12" cy="378.05" r="3"/><circle cx="731.84" cy="371.74" r="3"/><circle cx="724.56" cy="372.82" r="3"/><circle cx="717.28" cy="364.16" r="3"/><circle cx="710" cy="360.92" r="3"/><circle cx="702.72" cy="359.83" r="3"/><circle cx="695.44" cy="354.96" r="3"/><circle cx="688.16" cy="350.27" r="3"/><circle cx="680.88" cy="344.32" r="3"/><circle cx="673.59" cy="347.03" r="3"/><circle cx="666.31" cy="348.11" r="3"/><circle cx="659.03" cy="343.78" r="3"/><circle cx="651.75" cy="342.7" r="3"/><circle cx="644.47" cy="344.86" r="3"/><circle cx="637.19" cy="343.42" r="3"/><circle cx="629.91" cy="349.19" r="3"/><circle cx="622.62" cy="275.23" r="3"/><circle cx="615.34" cy="177.46" r="3"/><circle cx="608.06" cy="176.38" r="3"/><circle cx="600.78" cy="174.22" r="3"/><circle cx="593.5" cy="176.38" r="3"/><circle cx="586.22" cy="179.63" r="3"/><circle cx="578.94" cy="174.22" r="3"/><circle cx="571.66" cy="176.38" r="3"/><circle cx="564.38" cy="162.85" r="3"/><circle cx="557.09" cy="157.08" r="3"/><circle cx="549.81" cy="138.86" r="3"/><circle cx="542.53" cy="116.49" r="3"/><circle cx="535.25" cy="97.19" r="3"/><circle cx="527.97" cy="71.4" r="3"/><circle cx="520.69" cy="58.59" r="3"/><circle cx="513.41" cy="52.64" r="3"/><circle cx="506.12" cy="46.32" r="3"/><circle cx="498.84" cy="42.71" r="3"/><circle cx="491.56" cy="37.3" r="3"/><circle cx="484.28" cy="38.2" r="3"/></g>
<path d="M494.47 36.9L495.93 38.42M502.02 44.2L502.95 45.01M545.78 64.49L546.56 65.13M559.36 70.6L562.11 74.89M582.31 76.07L582.85 76.47M595.84 76.57L598.44 72.72M615.78 74.49L622.19 135.76M622.96 144.13L629.58 228.11M675.81 233.88L678.66 238.47M689.66 249.57L693.93 260.67M696.68 268.6L701.47 284.03M703.94 292.06L708.78 308.01M711.07 316.09L716.21 335.57M718.84 343.53L723 353.95M727.51 360.84L728.9 362.25M734.58 368.43L736.39 370.54M742.3 376.47L743.23 377.28M749.39 382.99L750.7 384.3M750.78 385.85L749.32 384.33M743.23 378.55L742.3 377.74M699.47 358.26L698.69 357.62M685.89 352.15L683.14 347.86M662.94 346.68L662.4 346.28M649.41 346.18L646.81 350.03M629.47 348.26L623.06 286.99M622.29 278.62L615.67 194.64M569.44 188.87L566.59 184.28M555.59 173.18L551.32 162.08M548.57 154.15L543.78 138.72M541.31 130.69L536.47 114.74M534.18 106.66L529.04 87.18M526.41 79.22L522.25 68.8M517.74 61.91L516.35 60.5M510.67 54.32L508.86 52.21M502.95 46.28L502.02 45.47M495.86 39.76L494.55 38.45" stroke="#7090cc" stroke-width="1.3" fill="none"/>
<g fill="#406bbb" fill-opacity="0.75"><circle cx="484.28" cy="38.2" r="3"/><circle cx="491.56" cy="33.87" r="3"/><circle cx="498.84" cy="41.45" r="3"/><circle cx="506.12" cy="47.76" r="3"/><circle cx="513.41" cy="49.93" r="3"/><circle cx="520.69" cy="53.18" r="3"/><circle cx="527.97" cy="56.42" r="3"/><circle cx="535.25" cy="58.59" r="3"/><circle cx="542.53" cy="61.83" r="3"/><circle cx="549.81" cy="67.79" r="3"/><circle cx="557.09" cy="67.07" r="3"/><circle cx="564.38" cy="78.43" r="3"/><circle cx="571.66" cy="74.64" r="3"/><circle cx="578.94" cy="73.56" r="3"/><circle cx="586.22" cy="78.97" r="3"/><circle cx="593.5" cy="80.05" r="3"/><circle cx="600.78" cy="69.23" r="3"/><circle cx="608.06" cy="71.4" r="3"/><circle cx="615.34" cy="70.31" r="3"/><circle cx="622.62" cy="139.94" r="3"/><circle cx="629.91" cy="232.3" r="3"/><circle cx="637.19" cy="231.22" r="3"/><circle cx="644.47" cy="228.15" r="3"/><circle cx="651.75" cy="228.15" r="3"/><circle cx="659.03" cy="228.15" r="3"/><circle cx="666.31" cy="229.77" r="3"/><circle cx="673.59" cy="230.32" r="3"/><circle cx="680.88" cy="242.04" r="3"/><circle cx="688.16" cy="245.65" r="3"/><circle cx="695.44" cy="264.59" r="3"/><circle cx="702.72" cy="288.04" r="3"/><circle cx="710" cy="312.03" r="3"/><circle cx="717.28" cy="339.63" r="3"/><circle cx="724.56" cy="357.85" r="3"/><circle cx="731.84" cy="365.24" r="3"/><circle cx="739.12" cy="373.72" r="3"/><circle cx="746.41" cy="380.04" r="3"/><circle cx="753.69" cy="387.25" r="3"/><circle cx="760.97" cy="383.64" r="3"/><circle cx="760.97" cy="384.55" r="3"/><circle cx="753.69" cy="388.88" r="3"/><circle cx="746.41" cy="381.3" r="3"/><circle cx="739.12" cy="374.99" r="3"/><circle cx="731.84" cy="372.82" r="3"/><circle cx="724.56" cy="369.57" r="3"/><circle cx="717.28" cy="366.33" r="3"/><circle cx="710" cy="364.16" r="3"/><circle cx="702.72" cy="360.92" r="3"/><circle cx="695.44" cy="354.96" r="3"/><circle cx="688.16" cy="355.68" r="3"/><circle cx="680.88" cy="344.32" r="3"/><circle cx="673.59" cy="348.11" r="3"/><circle cx="666.31" cy="349.19" r="3"/><circle cx="659.03" cy="343.78" r="3"/><circle cx="651.75" cy="342.7" r="3"/><circle cx="644.47" cy="353.52" r="3"/><circle cx="637.19" cy="351.35" r="3"/><circle cx="629.91" cy="352.44" r="3"/><circle cx="622.62" cy="282.81" r="3"/><circle cx="615.34" cy="190.45" r="3"/><circle cx="608.06" cy="191.53" r="3"/><circle cx="600.78" cy="194.6" r="3"/><circle cx="593.5" cy="194.6" r="3"/><circle cx="586.22" cy="194.6" r="3"/><circle cx="578.94" cy="192.98" r="3"/><circle cx="571.66" cy="192.43" r="3"/><circle cx="564.38" cy="180.71" r="3"/><circle cx="557.09" cy="177.1" r="3"/><circle cx="549.81" cy="158.16" r="3"/><circle cx="542.53" cy="134.71" r="3"/><circle cx="535.25" cy="110.72" r="3"/><circle cx="527.97" cy="83.12" r="3"/><circle cx="520.69" cy="64.9" r="3"/><circle cx="513.41" cy="57.51" r="3"/><circle cx="506.12" cy="49.03" r="3"/><circle cx="498.84" cy="42.71" r="3"/><circle cx="491.56" cy="35.5" r="3"/><circle cx="484.28" cy="39.11" r="3"/></g>
<path d="M494.7 34.51L495.71 35.41M516.54 49.48L517.55 50.38M538.62 58.93L539.16 59.33M553.22 64.29L553.68 64.62M596.63 70.76L597.65 69.86M615.81 73.4L622.16 129.82M622.92 138.18L629.61 232.44M683.22 239.03L685.81 242.89M697.16 254.35L701 262.92M703.8 270.81L708.92 290.11M711.46 298.11L715.82 309.9M718.52 317.85L723.33 333.45M725.98 341.42L730.43 353.89M734.9 360.73L736.07 361.82M741.55 368.13L743.98 371.56M748.34 378.72L751.76 385.33M750.55 388.24L749.54 387.34M728.71 373.27L727.7 372.37M706.63 363.82L706.09 363.42M692.03 358.46L691.57 358.13M648.62 351.99L647.6 352.89M629.44 349.35L623.09 292.93M622.33 284.57L615.64 190.31M562.03 183.72L559.44 179.86M548.09 168.4L544.25 159.83M541.45 151.94L536.33 132.64M533.79 124.64L529.43 112.85M526.73 104.9L521.92 89.3M519.27 81.33L514.82 68.86M510.35 62.02L509.18 60.93M503.7 54.62L501.27 51.19M496.91 44.03L493.49 37.42" stroke="#5a66b0" stroke-width="1.3" fill="none"/>
<g fill="#233396" fill-opacity="0.75"><circle cx="484.28" cy="34.96" r="3"/><circle cx="491.56" cy="31.71" r="3"/><circle cx="498.84" cy="38.2" r="3"/><circle cx="506.12" cy="42.53" r="3"/><circle cx="513.41" cy="46.68" r="3"/><circle cx="520.69" cy="53.18" r="3"/><circle cx="527.97" cy="54.26" r="3"/><circle cx="535.25" cy="56.42" r="3"/><circle cx="542.53" cy="61.83" r="3"/><circle cx="549.81" cy="61.83" r="3"/><circle cx="557.09" cy="67.07" r="3"/><circle cx="564.38" cy="67.07" r="3"/><circle cx="571.66" cy="67.79" r="3"/><circle cx="578.94" cy="68.15" r="3"/><circle cx="586.22" cy="69.23" r="3"/><circle cx="593.5" cy="73.56" r="3"/><circle cx="600.78" cy="67.07" r="3"/><circle cx="608.06" cy="70.31" r="3"/><circle cx="615.34" cy="69.23" r="3"/><circle cx="622.62" cy="133.99" r="3"/><circle cx="629.91" cy="236.63" r="3"/><circle cx="637.19" cy="235.55" r="3"/><circle cx="644.47" cy="231.22" r="3"/><circle cx="651.75" cy="233.38" r="3"/><circle cx="659.03" cy="230.68" r="3"/><circle cx="666.31" cy="234.1" r="3"/><circle cx="673.59" cy="234.1" r="3"/><circle cx="680.88" cy="235.55" r="3"/><circle cx="688.16" cy="246.37" r="3"/><circle cx="695.44" cy="250.52" r="3"/><circle cx="702.72" cy="266.75" r="3"/><circle cx="710" cy="294.17" r="3"/><circle cx="717.28" cy="313.83" r="3"/><circle cx="724.56" cy="337.47" r="3"/><circle cx="731.84" cy="357.85" r="3"/><circle cx="739.12" cy="364.7" r="3"/><circle cx="746.41" cy="374.99" r="3"/><circle cx="753.69" cy="389.06" r="3"/><circle cx="760.97" cy="386.35" r="3"/><circle cx="760.97" cy="387.79" r="3"/><circle cx="753.69" cy="391.04" r="3"/><circle cx="746.41" cy="384.55" r="3"/><circle cx="739.12" cy="380.22" r="3"/><circle cx="731.84" cy="376.07" r="3"/><circle cx="724.56" cy="369.57" r="3"/><circle cx="717.28" cy="368.49" r="3"/><circle cx="710" cy="366.33" r="3"/><circle cx="702.72" cy="360.92" r="3"/><circle cx="695.44" cy="360.92" r="3"/><circle cx="688.16" cy="355.68" r="3"/><circle cx="680.88" cy="355.68" r="3"/><circle cx="673.59" cy="354.96" r="3"/><circle cx="666.31" cy="354.6" r="3"/><circle cx="659.03" cy="353.52" r="3"/><circle cx="651.75" cy="349.19" r="3"/><circle cx="644.47" cy="355.68" r="3"/><circle cx="637.19" cy="352.44" r="3"/><circle cx="629.91" cy="353.52" r="3"/><circle cx="622.62" cy="288.76" r="3"/><circle cx="615.34" cy="186.12" r="3"/><circle cx="608.06" cy="187.2" r="3"/><circle cx="600.78" cy="191.53" r="3"/><circle cx="593.5" cy="189.37" r="3"/><circle cx="586.22" cy="192.07" r="3"/><circle cx="578.94" cy="188.65" r="3"/><circle cx="571.66" cy="188.65" r="3"/><circle cx="564.38" cy="187.2" r="3"/><circle cx="557.09" cy="176.38" r="3"/><circle cx="549.81" cy="172.23" r="3"/><circle cx="542.53" cy="156" r="3"/><circle cx="535.25" cy="128.58" r="3"/><circle cx="527.97" cy="108.92" r="3"/><circle cx="520.69" cy="85.28" r="3"/><circle cx="513.41" cy="64.9" r="3"/><circle cx="506.12" cy="58.05" r="3"/><circle cx="498.84" cy="47.76" r="3"/><circle cx="491.56" cy="33.69" r="3"/><circle cx="484.28" cy="36.4" r="3"/></g>
<path d="M509.42 41.9L510.12 42.45M523.33 45.8L525.33 48.28M615.9 58.06L622.07 104.39M622.94 112.74L629.59 199.97M633.32 206.61L633.78 206.94M654.85 207.09L655.94 206.1M662.36 205.82L662.98 206.29M690.53 214.84L693.07 218.55M698.04 225.31L700.11 227.92M704.01 235.21L708.71 249.77M711.67 257.62L715.61 266.69M718.41 274.59L723.44 292.65M725.71 300.74L730.7 318.27M733.03 326.34L737.94 343M740.4 351.03L745.13 365.93M748.28 373.69L751.81 380.79M735.83 380.85L735.13 380.3M721.92 376.95L719.92 374.47M629.35 364.69L623.18 318.36M622.31 310.01L615.66 222.78M611.93 216.14L611.47 215.81M590.4 215.66L589.31 216.65M582.89 216.93L582.27 216.46M554.72 207.91L552.18 204.2M547.21 197.44L545.14 194.83M541.24 187.54L536.54 172.98M533.58 165.13L529.64 156.06M526.84 148.16L521.81 130.1M519.54 122.01L514.55 104.48M512.22 96.41L507.31 79.75M504.85 71.72L500.12 56.82M496.97 49.06L493.44 41.96" stroke="#3c4889" stroke-width="1.3" fill="none"/>
<g fill="#000b62" fill-opacity="0.75"><circle cx="484.28" cy="31.71" r="3"/><circle cx="491.56" cy="32.79" r="3"/><circle cx="498.84" cy="37.12" r="3"/><circle cx="506.12" cy="39.29" r="3"/><circle cx="513.41" cy="45.06" r="3"/><circle cx="520.69" cy="42.53" r="3"/><circle cx="527.97" cy="51.55" r="3"/><circle cx="535.25" cy="55.7" r="3"/><circle cx="542.53" cy="56.42" r="3"/><circle cx="549.81" cy="57.51" r="3"/><circle cx="557.09" cy="59.13" r="3"/><circle cx="564.38" cy="56.96" r="3"/><circle cx="571.66" cy="60.75" r="3"/><circle cx="578.94" cy="64.9" r="3"/><circle cx="586.22" cy="61.11" r="3"/><circle cx="593.5" cy="57.87" r="3"/><circle cx="600.78" cy="57.87" r="3"/><circle cx="608.06" cy="58.59" r="3"/><circle cx="615.34" cy="53.9" r="3"/><circle cx="622.62" cy="108.55" r="3"/><circle cx="629.91" cy="204.16" r="3"/><circle cx="637.19" cy="209.39" r="3"/><circle cx="644.47" cy="205.96" r="3"/><circle cx="651.75" cy="209.93" r="3"/><circle cx="659.03" cy="203.26" r="3"/><circle cx="666.31" cy="208.85" r="3"/><circle cx="673.59" cy="207.77" r="3"/><circle cx="680.88" cy="207.77" r="3"/><circle cx="688.16" cy="211.38" r="3"/><circle cx="695.44" cy="222.02" r="3"/><circle cx="702.72" cy="231.22" r="3"/><circle cx="710" cy="253.77" r="3"/><circle cx="717.28" cy="270.54" r="3"/><circle cx="724.56" cy="296.7" r="3"/><circle cx="731.84" cy="322.31" r="3"/><circle cx="739.12" cy="347.03" r="3"/><circle cx="746.41" cy="369.93" r="3"/><circle cx="753.69" cy="384.55" r="3"/><circle cx="760.97" cy="384.55" r="3"/><circle cx="760.97" cy="391.04" r="3"/><circle cx="753.69" cy="389.96" r="3"/><circle cx="746.41" cy="385.63" r="3"/><circle cx="739.12" cy="383.46" r="3"/><circle cx="731.84" cy="377.69" r="3"/><circle cx="724.56" cy="380.22" r="3"/><circle cx="717.28" cy="371.2" r="3"/><circle cx="710" cy="367.05" r="3"/><circle cx="702.72" cy="366.33" r="3"/><circle cx="695.44" cy="365.24" r="3"/><circle cx="688.16" cy="363.62" r="3"/><circle cx="680.88" cy="365.79" r="3"/><circle cx="673.59" cy="362" r="3"/><circle cx="666.31" cy="357.85" r="3"/><circle cx="659.03" cy="361.64" r="3"/><circle cx="651.75" cy="364.88" r="3"/><circle cx="644.47" cy="364.88" r="3"/><circle cx="637.19" cy="364.16" r="3"/><circle cx="629.91" cy="368.85" r="3"/><circle cx="622.62" cy="314.2" r="3"/><circle cx="615.34" cy="218.59" r="3"/><circle cx="608.06" cy="213.36" r="3"/><circle cx="600.78" cy="216.79" r="3"/><circle cx="593.5" cy="212.82" r="3"/><circle cx="586.22" cy="219.49" r="3"/><circle cx="578.94" cy="213.9" r="3"/><circle cx="571.66" cy="214.98" r="3"/><circle cx="564.38" cy="214.98" r="3"/><circle cx="557.09" cy="211.38" r="3"/><circle cx="549.81" cy="200.73" r="3"/><circle cx="542.53" cy="191.53" r="3"/><circle cx="535.25" cy="168.98" r="3"/><circle cx="527.97" cy="152.21" r="3"/><circle cx="520.69" cy="126.05" r="3"/><circle cx="513.41" cy="100.44" r="3"/><circle cx="506.12" cy="75.72" r="3"/><circle cx="498.84" cy="52.82" r="3"/><circle cx="491.56" cy="38.2" r="3"/><circle cx="484.28" cy="38.2" r="3"/></g>
<rect x="477" y="12.95" width="291.25" height="396.85" fill="none" stroke="#000" stroke-width="1.7"/>
<path d="M477 409.8v7M484.28 409.8v3.9M491.56 409.8v3.9M498.84 409.8v3.9M506.12 409.8v3.9M513.41 409.8v7M520.69 409.8v3.9M527.97 409.8v3.9M535.25 409.8v3.9M542.53 409.8v3.9M549.81 409.8v7M557.09 409.8v3.9M564.38 409.8v3.9M571.66 409.8v3.9M578.94 409.8v3.9M586.22 409.8v7M593.5 409.8v3.9M600.78 409.8v3.9M608.06 409.8v3.9M615.34 409.8v3.9M622.62 409.8v7M629.91 409.8v3.9M637.19 409.8v3.9M644.47 409.8v3.9M651.75 409.8v3.9M659.03 409.8v7M666.31 409.8v3.9M673.59 409.8v3.9M680.88 409.8v3.9M688.16 409.8v3.9M695.44 409.8v7M702.72 409.8v3.9M710 409.8v3.9M717.28 409.8v3.9M724.56 409.8v3.9M731.84 409.8v7M739.12 409.8v3.9M746.41 409.8v3.9M753.69 409.8v3.9M760.97 409.8v3.9M768.25 409.8v7M477 409.8h-4M477 391.76h-7.6M477 373.72h-4M477 355.68h-4M477 337.65h-4M477 319.61h-4M477 301.57h-7.6M477 283.53h-4M477 265.49h-4M477 247.45h-4M477 229.41h-4M477 211.38h-7.6M477 193.34h-4M477 175.3h-4M477 157.26h-4M477 139.22h-4M477 121.18h-7.6M477 103.14h-4M477 85.1h-4M477 67.07h-4M477 49.03h-4M477 30.99h-7.6M477 12.95h-4" stroke="#000" stroke-width="1.7" fill="none"/>
<text x="477" y="436" text-anchor="middle" font-size="16.7">-2.0</text>
<text x="513.41" y="436" text-anchor="middle" font-size="16.7">-1.5</text>
<text x="549.81" y="436" text-anchor="middle" font-size="16.7">-1.0</text>
<text x="586.22" y="436" text-anchor="middle" font-size="16.7">-0.5</text>
<text x="622.62" y="436" text-anchor="middle" font-size="16.7">0.0</text>
<text x="659.03" y="436" text-anchor="middle" font-size="16.7">0.5</text>
<text x="695.44" y="436" text-anchor="middle" font-size="16.7">1.0</text>
<text x="731.84" y="436" text-anchor="middle" font-size="16.7">1.5</text>
<text x="768.25" y="436" text-anchor="middle" font-size="16.7">2.0</text>
<text x="463.4" y="396.56" text-anchor="end" font-size="16.7">-1.0</text>
<text x="463.4" y="306.37" text-anchor="end" font-size="16.7">-0.5</text>
<text x="463.4" y="216.18" text-anchor="end" font-size="16.7">0.0</text>
<text x="463.4" y="125.98" text-anchor="end" font-size="16.7">0.5</text>
<text x="463.4" y="35.79" text-anchor="end" font-size="16.7">1.0</text>
<text x="622.62" y="467.8" text-anchor="middle" font-size="20.3"><tspan font-weight="bold" font-style="italic">B</tspan> (T)</text>
<g transform="translate(421.6 211.38) rotate(-90)"><path d="M-58.1 0.35H-48.6" stroke="#000" stroke-width="1.05" fill="none"/><path d="M-58 0.3L-48.9 -12.3" stroke="#000" stroke-width="1.0" fill="none"/><path d="M-48.85 0.9V-12.7" stroke="#000" stroke-width="2.1" fill="none"/><text x="-45.7" y="0" font-size="20.5"><tspan font-style="italic">A</tspan><tspan font-size="13.8" dy="6">MChD</tspan><tspan dy="-6" dx="-1.6"> (a.u.)</tspan></text></g>
<path d="M225.65 489.85V886.55M80.1 688.2H371.2" stroke="#000" stroke-width="1.5" fill="none"/>
<path d="M98.03 518L98.56 517.6M105.11 512.34L106.04 511.54M112.38 511.54L113.31 512.34M119.66 512.34L120.59 511.54M125.6 512.56L129.21 519.97M177.84 541.51L178.85 542.41M218.78 550.47L225.24 617.12M225.92 625.49L232.65 728.91M272.57 744.23L273.34 744.87M278.41 751.31L282.05 758.89M285.76 766.42L289.26 773.35M292.19 781.16L297.38 801.34M299.86 809.35L304.27 821.47M307.26 829.32L311.42 839.73M316.43 846.03L316.81 846.29M321.98 852.52L325.82 861.08M330.91 862.41L331.44 862.01M337.99 862.25L338.92 863.06M345.26 863.06L346.19 862.25M352.74 857L353.27 856.6M353.27 858.4L352.74 858.8M346.19 864.06L345.26 864.86M338.92 864.86L337.99 864.06M331.64 864.06L330.71 864.86M325.7 863.84L322.09 856.43M273.46 834.89L272.45 833.99M232.52 825.93L226.06 759.28M225.38 750.91L218.65 647.49M178.73 632.17L177.96 631.53M172.89 625.09L169.25 617.51M165.54 609.98L162.04 603.05M159.11 595.24L153.92 575.06M151.44 567.05L147.03 554.93M144.04 547.08L139.88 536.67M134.87 530.37L134.49 530.11M129.32 523.88L125.48 515.32M120.39 513.99L119.86 514.39M113.31 514.15L112.38 513.34M106.04 513.34L105.11 514.15M98.56 519.4L98.03 519.8" stroke="#c5ecd5" stroke-width="1.3" fill="none"/>
<g fill="#bfead0" fill-opacity="0.9"><circle cx="87.38" cy="517.26" r="3"/><circle cx="94.65" cy="520.5" r="3"/><circle cx="101.93" cy="515.09" r="3"/><circle cx="109.21" cy="508.78" r="3"/><circle cx="116.49" cy="515.09" r="3"/><circle cx="123.76" cy="508.78" r="3"/><circle cx="131.04" cy="523.75" r="3"/><circle cx="138.32" cy="525.91" r="3"/><circle cx="145.6" cy="528.08" r="3"/><circle cx="152.88" cy="530.24" r="3"/><circle cx="160.15" cy="533.31" r="3"/><circle cx="167.43" cy="535.47" r="3"/><circle cx="174.71" cy="538.72" r="3"/><circle cx="181.99" cy="545.21" r="3"/><circle cx="189.26" cy="549.54" r="3"/><circle cx="196.54" cy="544.85" r="3"/><circle cx="203.82" cy="545.21" r="3"/><circle cx="211.09" cy="546.29" r="3"/><circle cx="218.37" cy="546.29" r="3"/><circle cx="225.65" cy="621.3" r="3"/><circle cx="232.93" cy="733.1" r="3"/><circle cx="240.21" cy="735.08" r="3"/><circle cx="247.48" cy="735.8" r="3"/><circle cx="254.76" cy="736.53" r="3"/><circle cx="262.04" cy="738.33" r="3"/><circle cx="269.32" cy="741.57" r="3"/><circle cx="276.59" cy="747.52" r="3"/><circle cx="283.87" cy="762.67" r="3"/><circle cx="291.15" cy="777.1" r="3"/><circle cx="298.43" cy="805.41" r="3"/><circle cx="305.7" cy="825.42" r="3"/><circle cx="312.98" cy="843.63" r="3"/><circle cx="320.26" cy="848.68" r="3"/><circle cx="327.54" cy="864.91" r="3"/><circle cx="334.81" cy="859.5" r="3"/><circle cx="342.09" cy="865.81" r="3"/><circle cx="349.37" cy="859.5" r="3"/><circle cx="356.64" cy="854.09" r="3"/><circle cx="363.92" cy="857.7" r="3"/><circle cx="363.92" cy="859.14" r="3"/><circle cx="356.64" cy="855.9" r="3"/><circle cx="349.37" cy="861.31" r="3"/><circle cx="342.09" cy="867.62" r="3"/><circle cx="334.81" cy="861.31" r="3"/><circle cx="327.54" cy="867.62" r="3"/><circle cx="320.26" cy="852.65" r="3"/><circle cx="312.98" cy="850.49" r="3"/><circle cx="305.7" cy="848.32" r="3"/><circle cx="298.43" cy="846.16" r="3"/><circle cx="291.15" cy="843.09" r="3"/><circle cx="283.87" cy="840.93" r="3"/><circle cx="276.59" cy="837.68" r="3"/><circle cx="269.32" cy="831.19" r="3"/><circle cx="262.04" cy="826.86" r="3"/><circle cx="254.76" cy="831.55" r="3"/><circle cx="247.48" cy="831.19" r="3"/><circle cx="240.21" cy="830.11" r="3"/><circle cx="232.93" cy="830.11" r="3"/><circle cx="225.65" cy="755.1" r="3"/><circle cx="218.37" cy="643.3" r="3"/><circle cx="211.09" cy="641.32" r="3"/><circle cx="203.82" cy="640.6" r="3"/><circle cx="196.54" cy="639.87" r="3"/><circle cx="189.26" cy="638.07" r="3"/><circle cx="181.99" cy="634.83" r="3"/><circle cx="174.71" cy="628.88" r="3"/><circle cx="167.43" cy="613.73" r="3"/><circle cx="160.15" cy="599.3" r="3"/><circle cx="152.88" cy="570.99" r="3"/><circle cx="145.6" cy="550.98" r="3"/><circle cx="138.32" cy="532.77" r="3"/><circle cx="131.04" cy="527.72" r="3"/><circle cx="123.76" cy="511.49" r="3"/><circle cx="116.49" cy="516.9" r="3"/><circle cx="109.21" cy="510.59" r="3"/><circle cx="101.93" cy="516.9" r="3"/><circle cx="94.65" cy="522.31" r="3"/><circle cx="87.38" cy="518.7" r="3"/></g>
<path d="M89.59 519.1L92.44 514.52M97.6 513.94L98.99 515.35M218.77 542.9L225.25 610.63M225.94 619L232.63 714.48M271.69 721.06L274.22 724.76M285.48 733.91L289.53 743.65M292.4 751.53L297.17 766.78M300.23 774.58L303.9 782.32M306.66 790.2L312.03 813.22M314.22 821.32L319.02 836.92M322.29 844.61L325.5 850.42M352.35 859.75L353.66 861.05M358.86 860.44L361.71 855.86M361.71 857.3L358.86 861.88M353.7 862.46L352.31 861.05M232.53 833.5L226.05 765.77M225.36 757.4L218.67 661.92M179.61 655.34L177.08 651.64M165.82 642.49L161.77 632.75M158.9 624.87L154.13 609.62M151.07 601.82L147.4 594.08M144.64 586.2L139.27 563.18M137.08 555.08L132.28 539.48M129.01 531.79L125.8 525.98M98.95 516.65L97.64 515.35M92.44 515.96L89.59 520.54" stroke="#9fe0b8" stroke-width="1.3" fill="none"/>
<g fill="#94ddb0" fill-opacity="0.9"><circle cx="87.38" cy="522.67" r="3"/><circle cx="94.65" cy="510.95" r="3"/><circle cx="101.93" cy="518.34" r="3"/><circle cx="109.21" cy="520.5" r="3"/><circle cx="116.49" cy="519.42" r="3"/><circle cx="123.76" cy="519.42" r="3"/><circle cx="131.04" cy="522.67" r="3"/><circle cx="138.32" cy="523.75" r="3"/><circle cx="145.6" cy="527" r="3"/><circle cx="152.88" cy="529.16" r="3"/><circle cx="160.15" cy="533.31" r="3"/><circle cx="167.43" cy="532.41" r="3"/><circle cx="174.71" cy="535.47" r="3"/><circle cx="181.99" cy="539.8" r="3"/><circle cx="189.26" cy="539.8" r="3"/><circle cx="196.54" cy="538.72" r="3"/><circle cx="203.82" cy="537.63" r="3"/><circle cx="211.09" cy="538.36" r="3"/><circle cx="218.37" cy="538.72" r="3"/><circle cx="225.65" cy="614.81" r="3"/><circle cx="232.93" cy="718.67" r="3"/><circle cx="240.21" cy="717.95" r="3"/><circle cx="247.48" cy="722.28" r="3"/><circle cx="254.76" cy="718.67" r="3"/><circle cx="262.04" cy="718.67" r="3"/><circle cx="269.32" cy="717.59" r="3"/><circle cx="276.59" cy="728.23" r="3"/><circle cx="283.87" cy="730.03" r="3"/><circle cx="291.15" cy="747.52" r="3"/><circle cx="298.43" cy="770.79" r="3"/><circle cx="305.7" cy="786.11" r="3"/><circle cx="312.98" cy="817.31" r="3"/><circle cx="320.26" cy="840.93" r="3"/><circle cx="327.54" cy="854.09" r="3"/><circle cx="334.81" cy="854.99" r="3"/><circle cx="342.09" cy="854.09" r="3"/><circle cx="349.37" cy="856.8" r="3"/><circle cx="356.64" cy="864.01" r="3"/><circle cx="363.92" cy="852.29" r="3"/><circle cx="363.92" cy="853.73" r="3"/><circle cx="356.64" cy="865.45" r="3"/><circle cx="349.37" cy="858.06" r="3"/><circle cx="342.09" cy="855.9" r="3"/><circle cx="334.81" cy="856.98" r="3"/><circle cx="327.54" cy="856.98" r="3"/><circle cx="320.26" cy="853.73" r="3"/><circle cx="312.98" cy="852.65" r="3"/><circle cx="305.7" cy="849.4" r="3"/><circle cx="298.43" cy="847.24" r="3"/><circle cx="291.15" cy="843.09" r="3"/><circle cx="283.87" cy="843.99" r="3"/><circle cx="276.59" cy="840.93" r="3"/><circle cx="269.32" cy="836.6" r="3"/><circle cx="262.04" cy="836.6" r="3"/><circle cx="254.76" cy="837.68" r="3"/><circle cx="247.48" cy="838.77" r="3"/><circle cx="240.21" cy="838.04" r="3"/><circle cx="232.93" cy="837.68" r="3"/><circle cx="225.65" cy="761.59" r="3"/><circle cx="218.37" cy="657.73" r="3"/><circle cx="211.09" cy="658.45" r="3"/><circle cx="203.82" cy="654.12" r="3"/><circle cx="196.54" cy="657.73" r="3"/><circle cx="189.26" cy="657.73" r="3"/><circle cx="181.99" cy="658.81" r="3"/><circle cx="174.71" cy="648.17" r="3"/><circle cx="167.43" cy="646.37" r="3"/><circle cx="160.15" cy="628.88" r="3"/><circle cx="152.88" cy="605.61" r="3"/><circle cx="145.6" cy="590.29" r="3"/><circle cx="138.32" cy="559.09" r="3"/><circle cx="131.04" cy="535.47" r="3"/><circle cx="123.76" cy="522.31" r="3"/><circle cx="116.49" cy="521.41" r="3"/><circle cx="109.21" cy="522.31" r="3"/><circle cx="101.93" cy="519.6" r="3"/><circle cx="94.65" cy="512.39" r="3"/><circle cx="87.38" cy="524.11" r="3"/></g>
<path d="M90.32 516.43L91.71 515.02M105.34 516.64L105.8 516.97M156.25 529.5L156.78 529.9M178.12 534.86L178.57 535.18M218.8 540.73L225.22 602.88M225.93 611.25L232.65 713.4M258.13 712.92L258.67 712.52M265.33 712.63L266.02 713.18M278.26 717.12L282.2 726.18M286.45 733.35L288.57 736.09M293.95 742.54L295.62 744.4M299.45 751.6L304.68 772.48M307.26 780.46L311.42 790.87M313.96 798.85L319.28 821.16M321.7 829.18L326.09 841.13M329.63 848.72L332.71 854.06M345.46 857.5L346 857.9M359.63 860.15L360.94 858.85M360.98 859.97L359.59 861.38M345.96 859.76L345.5 859.43M295.05 846.9L294.52 846.5M273.18 841.54L272.73 841.22M232.5 835.67L226.08 773.52M225.37 765.15L218.65 663M193.17 663.48L192.63 663.88M185.97 663.77L185.28 663.22M173.04 659.28L169.1 650.22M164.85 643.05L162.73 640.31M157.35 633.86L155.68 632M151.85 624.8L146.62 603.92M144.04 595.94L139.88 585.53M137.34 577.55L132.02 555.24M129.6 547.22L125.21 535.27M121.67 527.68L118.59 522.34M105.84 518.9L105.3 518.5M91.67 516.25L90.36 517.55" stroke="#7dd4a0" stroke-width="1.3" fill="none"/>
<g fill="#6fcf95" fill-opacity="0.9"><circle cx="87.38" cy="519.42" r="3"/><circle cx="94.65" cy="512.03" r="3"/><circle cx="101.93" cy="514.19" r="3"/><circle cx="109.21" cy="519.42" r="3"/><circle cx="116.49" cy="516.18" r="3"/><circle cx="123.76" cy="518.34" r="3"/><circle cx="131.04" cy="519.42" r="3"/><circle cx="138.32" cy="522.67" r="3"/><circle cx="145.6" cy="523.75" r="3"/><circle cx="152.88" cy="527" r="3"/><circle cx="160.15" cy="532.41" r="3"/><circle cx="167.43" cy="532.77" r="3"/><circle cx="174.71" cy="532.41" r="3"/><circle cx="181.99" cy="537.63" r="3"/><circle cx="189.26" cy="538.18" r="3"/><circle cx="196.54" cy="537.63" r="3"/><circle cx="203.82" cy="537.09" r="3"/><circle cx="211.09" cy="536.19" r="3"/><circle cx="218.37" cy="536.55" r="3"/><circle cx="225.65" cy="607.06" r="3"/><circle cx="232.93" cy="717.59" r="3"/><circle cx="240.21" cy="716.51" r="3"/><circle cx="247.48" cy="716.51" r="3"/><circle cx="254.76" cy="715.43" r="3"/><circle cx="262.04" cy="710.02" r="3"/><circle cx="269.32" cy="715.79" r="3"/><circle cx="276.59" cy="713.26" r="3"/><circle cx="283.87" cy="730.03" r="3"/><circle cx="291.15" cy="739.41" r="3"/><circle cx="298.43" cy="747.52" r="3"/><circle cx="305.7" cy="776.56" r="3"/><circle cx="312.98" cy="794.77" r="3"/><circle cx="320.26" cy="825.24" r="3"/><circle cx="327.54" cy="845.08" r="3"/><circle cx="334.81" cy="857.7" r="3"/><circle cx="342.09" cy="854.99" r="3"/><circle cx="349.37" cy="860.4" r="3"/><circle cx="356.64" cy="863.11" r="3"/><circle cx="363.92" cy="855.9" r="3"/><circle cx="363.92" cy="856.98" r="3"/><circle cx="356.64" cy="864.37" r="3"/><circle cx="349.37" cy="862.21" r="3"/><circle cx="342.09" cy="856.98" r="3"/><circle cx="334.81" cy="860.22" r="3"/><circle cx="327.54" cy="858.06" r="3"/><circle cx="320.26" cy="856.98" r="3"/><circle cx="312.98" cy="853.73" r="3"/><circle cx="305.7" cy="852.65" r="3"/><circle cx="298.43" cy="849.4" r="3"/><circle cx="291.15" cy="843.99" r="3"/><circle cx="283.87" cy="843.63" r="3"/><circle cx="276.59" cy="843.99" r="3"/><circle cx="269.32" cy="838.77" r="3"/><circle cx="262.04" cy="838.22" r="3"/><circle cx="254.76" cy="838.77" r="3"/><circle cx="247.48" cy="839.31" r="3"/><circle cx="240.21" cy="840.21" r="3"/><circle cx="232.93" cy="839.85" r="3"/><circle cx="225.65" cy="769.34" r="3"/><circle cx="218.37" cy="658.81" r="3"/><circle cx="211.09" cy="659.89" r="3"/><circle cx="203.82" cy="659.89" r="3"/><circle cx="196.54" cy="660.97" r="3"/><circle cx="189.26" cy="666.38" r="3"/><circle cx="181.99" cy="660.61" r="3"/><circle cx="174.71" cy="663.14" r="3"/><circle cx="167.43" cy="646.37" r="3"/><circle cx="160.15" cy="636.99" r="3"/><circle cx="152.88" cy="628.88" r="3"/><circle cx="145.6" cy="599.84" r="3"/><circle cx="138.32" cy="581.63" r="3"/><circle cx="131.04" cy="551.16" r="3"/><circle cx="123.76" cy="531.32" r="3"/><circle cx="116.49" cy="518.7" r="3"/><circle cx="109.21" cy="521.41" r="3"/><circle cx="101.93" cy="516" r="3"/><circle cx="94.65" cy="513.29" r="3"/><circle cx="87.38" cy="520.5" r="3"/></g>
<path d="M97.39 516.3L99.2 518.4M105.07 518.79L106.08 517.89M185.36 529.9L185.89 529.5M218.83 535.5L225.19 593.14M225.93 601.51L232.65 702.58M250.43 704.86L251.81 703.45M265.02 702.19L266.33 700.89M271.23 701.68L274.68 708.44M279.88 709.57L280.58 709.02M285.51 710.28L289.51 719.68M292.75 727.43L296.83 737.33M300.3 744.97L303.83 752.06M306.86 759.86L311.82 777.21M314.14 785.28L319.09 802.45M321.34 810.55L326.45 829.66M329.21 837.57L333.14 846.63M337.62 853.61L339.29 855.47M345.46 856.1L346 855.7M352.01 856.46L354.01 858.94M353.91 860.1L352.1 858M346.23 857.61L345.22 858.51M265.94 846.5L265.41 846.9M232.47 840.9L226.11 783.26M225.37 774.89L218.65 673.82M200.87 671.54L199.49 672.95M186.28 674.21L184.97 675.51M180.07 674.72L176.62 667.96M171.42 666.83L170.72 667.38M165.79 666.12L161.79 656.72M158.55 648.97L154.47 639.07M151 631.43L147.47 624.34M144.44 616.54L139.48 599.19M137.16 591.12L132.21 573.95M129.96 565.85L124.85 546.74M122.09 538.83L118.16 529.77M113.68 522.79L112.01 520.93M105.84 520.3L105.3 520.7M99.29 519.94L97.29 517.46" stroke="#2a8a50" stroke-width="1.3" fill="none"/>
<g fill="#127d3d" fill-opacity="0.9"><circle cx="87.38" cy="510.95" r="3"/><circle cx="94.65" cy="513.11" r="3"/><circle cx="101.93" cy="521.59" r="3"/><circle cx="109.21" cy="515.09" r="3"/><circle cx="116.49" cy="516.18" r="3"/><circle cx="123.76" cy="517.26" r="3"/><circle cx="131.04" cy="518.34" r="3"/><circle cx="138.32" cy="520.5" r="3"/><circle cx="145.6" cy="521.59" r="3"/><circle cx="152.88" cy="524.83" r="3"/><circle cx="160.15" cy="525.91" r="3"/><circle cx="167.43" cy="525.91" r="3"/><circle cx="174.71" cy="528.08" r="3"/><circle cx="181.99" cy="532.41" r="3"/><circle cx="189.26" cy="527" r="3"/><circle cx="196.54" cy="528.08" r="3"/><circle cx="203.82" cy="529.16" r="3"/><circle cx="211.09" cy="530.24" r="3"/><circle cx="218.37" cy="531.32" r="3"/><circle cx="225.65" cy="597.32" r="3"/><circle cx="232.93" cy="706.77" r="3"/><circle cx="240.21" cy="706.23" r="3"/><circle cx="247.48" cy="707.85" r="3"/><circle cx="254.76" cy="700.46" r="3"/><circle cx="262.04" cy="705.15" r="3"/><circle cx="269.32" cy="697.94" r="3"/><circle cx="276.59" cy="712.18" r="3"/><circle cx="283.87" cy="706.41" r="3"/><circle cx="291.15" cy="723.54" r="3"/><circle cx="298.43" cy="741.21" r="3"/><circle cx="305.7" cy="755.82" r="3"/><circle cx="312.98" cy="781.24" r="3"/><circle cx="320.26" cy="806.49" r="3"/><circle cx="327.54" cy="833.72" r="3"/><circle cx="334.81" cy="850.49" r="3"/><circle cx="342.09" cy="858.6" r="3"/><circle cx="349.37" cy="853.19" r="3"/><circle cx="356.64" cy="862.21" r="3"/><circle cx="363.92" cy="864.01" r="3"/><circle cx="363.92" cy="865.45" r="3"/><circle cx="356.64" cy="863.29" r="3"/><circle cx="349.37" cy="854.81" r="3"/><circle cx="342.09" cy="861.31" r="3"/><circle cx="334.81" cy="860.22" r="3"/><circle cx="327.54" cy="859.14" r="3"/><circle cx="320.26" cy="858.06" r="3"/><circle cx="312.98" cy="855.9" r="3"/><circle cx="305.7" cy="854.81" r="3"/><circle cx="298.43" cy="851.57" r="3"/><circle cx="291.15" cy="850.49" r="3"/><circle cx="283.87" cy="850.49" r="3"/><circle cx="276.59" cy="848.32" r="3"/><circle cx="269.32" cy="843.99" r="3"/><circle cx="262.04" cy="849.4" r="3"/><circle cx="254.76" cy="848.32" r="3"/><circle cx="247.48" cy="847.24" r="3"/><circle cx="240.21" cy="846.16" r="3"/><circle cx="232.93" cy="845.08" r="3"/><circle cx="225.65" cy="779.08" r="3"/><circle cx="218.37" cy="669.63" r="3"/><circle cx="211.09" cy="670.17" r="3"/><circle cx="203.82" cy="668.55" r="3"/><circle cx="196.54" cy="675.94" r="3"/><circle cx="189.26" cy="671.25" r="3"/><circle cx="181.99" cy="678.46" r="3"/><circle cx="174.71" cy="664.22" r="3"/><circle cx="167.43" cy="669.99" r="3"/><circle cx="160.15" cy="652.86" r="3"/><circle cx="152.88" cy="635.19" r="3"/><circle cx="145.6" cy="620.58" r="3"/><circle cx="138.32" cy="595.16" r="3"/><circle cx="131.04" cy="569.91" r="3"/><circle cx="123.76" cy="542.68" r="3"/><circle cx="116.49" cy="525.91" r="3"/><circle cx="109.21" cy="517.8" r="3"/><circle cx="101.93" cy="523.21" r="3"/><circle cx="94.65" cy="514.19" r="3"/><circle cx="87.38" cy="512.39" r="3"/></g>
<path d="M90.08 507.67L91.95 509.9M97.57 510.08L99.02 508.57M104.64 508.75L106.51 510.98M119.9 512.32L120.35 512.64M141.49 514.78L142.42 515.59M207.03 518.52L207.88 517.8M213.29 518.68L216.18 523.41M218.97 531.15L225.06 573.87M225.92 582.22L232.65 685.45M250.22 686.52L252.02 688.62M293.39 697.16L296.18 701.6M301.45 708.07L302.68 709.26M306.96 716.19L311.73 731.43M314.37 739.41L318.87 752.22M321.61 760.16L326.19 773.66M328.56 781.71L333.79 802.42M336.02 810.51L340.89 826.81M344 834.57L347.46 841.34M350.93 848.98L355.09 859.39M361.22 868.73L359.35 866.5M353.73 866.32L352.28 867.83M346.66 867.65L344.79 865.42M331.4 864.08L330.95 863.76M309.81 861.62L308.88 860.81M244.27 857.88L243.42 858.6M238.01 857.72L235.12 852.99M232.33 845.25L226.24 802.53M225.38 794.18L218.65 690.95M201.08 689.88L199.28 687.78M157.91 679.24L155.12 674.8M149.85 668.33L148.62 667.14M144.34 660.21L139.57 644.97M136.93 636.99L132.43 624.18M129.69 616.24L125.11 602.74M122.74 594.69L117.51 573.98M115.28 565.89L110.41 549.59M107.3 541.83L103.84 535.06M100.37 527.42L96.21 517.01" stroke="#1c6037" stroke-width="1.3" fill="none"/>
<g fill="#034e21" fill-opacity="0.9"><circle cx="87.38" cy="504.46" r="3"/><circle cx="94.65" cy="513.11" r="3"/><circle cx="101.93" cy="505.54" r="3"/><circle cx="109.21" cy="514.19" r="3"/><circle cx="116.49" cy="509.87" r="3"/><circle cx="123.76" cy="515.09" r="3"/><circle cx="131.04" cy="515.09" r="3"/><circle cx="138.32" cy="512.03" r="3"/><circle cx="145.6" cy="518.34" r="3"/><circle cx="152.88" cy="520.5" r="3"/><circle cx="160.15" cy="519.42" r="3"/><circle cx="167.43" cy="519.42" r="3"/><circle cx="174.71" cy="518.34" r="3"/><circle cx="181.99" cy="519.42" r="3"/><circle cx="189.26" cy="521.59" r="3"/><circle cx="196.54" cy="522.67" r="3"/><circle cx="203.82" cy="521.23" r="3"/><circle cx="211.09" cy="515.09" r="3"/><circle cx="218.37" cy="527" r="3"/><circle cx="225.65" cy="578.03" r="3"/><circle cx="232.93" cy="689.64" r="3"/><circle cx="240.21" cy="685.5" r="3"/><circle cx="247.48" cy="683.33" r="3"/><circle cx="254.76" cy="691.81" r="3"/><circle cx="262.04" cy="688.56" r="3"/><circle cx="269.32" cy="686.4" r="3"/><circle cx="276.59" cy="686.4" r="3"/><circle cx="283.87" cy="690.72" r="3"/><circle cx="291.15" cy="693.61" r="3"/><circle cx="298.43" cy="705.15" r="3"/><circle cx="305.7" cy="712.18" r="3"/><circle cx="312.98" cy="735.44" r="3"/><circle cx="320.26" cy="756.18" r="3"/><circle cx="327.54" cy="777.64" r="3"/><circle cx="334.81" cy="806.49" r="3"/><circle cx="342.09" cy="830.83" r="3"/><circle cx="349.37" cy="845.08" r="3"/><circle cx="356.64" cy="863.29" r="3"/><circle cx="363.92" cy="865.45" r="3"/><circle cx="363.92" cy="871.94" r="3"/><circle cx="356.64" cy="863.29" r="3"/><circle cx="349.37" cy="870.86" r="3"/><circle cx="342.09" cy="862.21" r="3"/><circle cx="334.81" cy="866.53" r="3"/><circle cx="327.54" cy="861.31" r="3"/><circle cx="320.26" cy="861.31" r="3"/><circle cx="312.98" cy="864.37" r="3"/><circle cx="305.7" cy="858.06" r="3"/><circle cx="298.43" cy="855.9" r="3"/><circle cx="291.15" cy="856.98" r="3"/><circle cx="283.87" cy="856.98" r="3"/><circle cx="276.59" cy="858.06" r="3"/><circle cx="269.32" cy="856.98" r="3"/><circle cx="262.04" cy="854.81" r="3"/><circle cx="254.76" cy="853.73" r="3"/><circle cx="247.48" cy="855.17" r="3"/><circle cx="240.21" cy="861.31" r="3"/><circle cx="232.93" cy="849.4" r="3"/><circle cx="225.65" cy="798.37" r="3"/><circle cx="218.37" cy="686.76" r="3"/><circle cx="211.09" cy="690.9" r="3"/><circle cx="203.82" cy="693.07" r="3"/><circle cx="196.54" cy="684.59" r="3"/><circle cx="189.26" cy="687.84" r="3"/><circle cx="181.99" cy="690" r="3"/><circle cx="174.71" cy="690" r="3"/><circle cx="167.43" cy="685.68" r="3"/><circle cx="160.15" cy="682.79" r="3"/><circle cx="152.88" cy="671.25" r="3"/><circle cx="145.6" cy="664.22" r="3"/><circle cx="138.32" cy="640.96" r="3"/><circle cx="131.04" cy="620.22" r="3"/><circle cx="123.76" cy="598.76" r="3"/><circle cx="116.49" cy="569.91" r="3"/><circle cx="109.21" cy="545.57" r="3"/><circle cx="101.93" cy="531.32" r="3"/><circle cx="94.65" cy="513.11" r="3"/><circle cx="87.38" cy="510.95" r="3"/></g>
<rect x="80.1" y="489.85" width="291.1" height="396.7" fill="none" stroke="#000" stroke-width="1.7"/>
<path d="M80.1 886.55v7M87.38 886.55v3.9M94.65 886.55v3.9M101.93 886.55v3.9M109.21 886.55v3.9M116.49 886.55v7M123.77 886.55v3.9M131.04 886.55v3.9M138.32 886.55v3.9M145.6 886.55v3.9M152.88 886.55v7M160.15 886.55v3.9M167.43 886.55v3.9M174.71 886.55v3.9M181.99 886.55v3.9M189.26 886.55v7M196.54 886.55v3.9M203.82 886.55v3.9M211.09 886.55v3.9M218.37 886.55v3.9M225.65 886.55v7M232.93 886.55v3.9M240.21 886.55v3.9M247.48 886.55v3.9M254.76 886.55v3.9M262.04 886.55v7M269.32 886.55v3.9M276.59 886.55v3.9M283.87 886.55v3.9M291.15 886.55v3.9M298.43 886.55v7M305.7 886.55v3.9M312.98 886.55v3.9M320.26 886.55v3.9M327.54 886.55v3.9M334.81 886.55v7M342.09 886.55v3.9M349.37 886.55v3.9M356.64 886.55v3.9M363.92 886.55v3.9M371.2 886.55v7M80.1 886.55h-4M80.1 868.52h-7.6M80.1 850.49h-4M80.1 832.45h-4M80.1 814.42h-4M80.1 796.39h-4M80.1 778.36h-7.6M80.1 760.33h-4M80.1 742.3h-4M80.1 724.26h-4M80.1 706.23h-4M80.1 688.2h-7.6M80.1 670.17h-4M80.1 652.14h-4M80.1 634.1h-4M80.1 616.07h-4M80.1 598.04h-7.6M80.1 580.01h-4M80.1 561.98h-4M80.1 543.95h-4M80.1 525.91h-4M80.1 507.88h-7.6M80.1 489.85h-4" stroke="#000" stroke-width="1.7" fill="none"/>
<text x="80.1" y="912.75" text-anchor="middle" font-size="16.7">-2.0</text>
<text x="116.49" y="912.75" text-anchor="middle" font-size="16.7">-1.5</text>
<text x="152.88" y="912.75" text-anchor="middle" font-size="16.7">-1.0</text>
<text x="189.26" y="912.75" text-anchor="middle" font-size="16.7">-0.5</text>
<text x="225.65" y="912.75" text-anchor="middle" font-size="16.7">0.0</text>
<text x="262.04" y="912.75" text-anchor="middle" font-size="16.7">0.5</text>
<text x="298.43" y="912.75" text-anchor="middle" font-size="16.7">1.0</text>
<text x="334.81" y="912.75" text-anchor="middle" font-size="16.7">1.5</text>
<text x="371.2" y="912.75" text-anchor="middle" font-size="16.7">2.0</text>
<text x="66.5" y="873.32" text-anchor="end" font-size="16.7">-1.0</text>
<text x="66.5" y="783.16" text-anchor="end" font-size="16.7">-0.5</text>
<text x="66.5" y="693" text-anchor="end" font-size="16.7">0.0</text>
<text x="66.5" y="602.84" text-anchor="end" font-size="16.7">0.5</text>
<text x="66.5" y="512.68" text-anchor="end" font-size="16.7">1.0</text>
<text x="225.65" y="944.55" text-anchor="middle" font-size="20.3"><tspan font-weight="bold" font-style="italic">B</tspan> (T)</text>
<g transform="translate(24.7 688.2) rotate(-90)"><path d="M-58.1 0.35H-48.6" stroke="#000" stroke-width="1.05" fill="none"/><path d="M-58 0.3L-48.9 -12.3" stroke="#000" stroke-width="1.0" fill="none"/><path d="M-48.85 0.9V-12.7" stroke="#000" stroke-width="2.1" fill="none"/><text x="-45.7" y="0" font-size="20.5"><tspan font-style="italic">A</tspan><tspan font-size="13.8" dy="6">MChD</tspan><tspan dy="-6" dx="-1.6"> (a.u.)</tspan></text></g>
<path d="M622.65 489.85V886.55M477.05 688.2H768.25" stroke="#000" stroke-width="1.5" fill="none"/>
<path d="M729.48 517.66L726.94 521.37M721.2 527.34L720.66 527.74M700.15 538.79L698.03 541.53M629.45 562.18L623.13 617.31M622.4 625.67L615.62 737.02M582.76 740.5L582.46 740.3M568.52 745.05L567.58 745.86M562.64 752.42L558.9 760.48M555.96 768.33L551.02 785.33M548.71 793.4L543.71 811.1M540.83 818.97L537.03 827.37M533.12 834.79L530.18 839.68M524.84 846.02L523.9 846.83M518.24 852.97L515.94 856.12M515.82 858.74L518.36 855.03M524.1 849.06L524.64 848.66M545.15 837.61L547.27 834.87M615.85 814.22L622.17 759.09M622.9 750.73L629.68 639.38M662.54 635.9L662.84 636.1M676.78 631.35L677.72 630.54M682.66 623.98L686.4 615.92M689.34 608.07L694.28 591.07M696.59 583L701.59 565.3M704.47 557.43L708.27 549.03M712.18 541.61L715.12 536.72M720.46 530.38L721.4 529.57M727.06 523.43L729.36 520.28" stroke="#93d6de" stroke-width="1.3" fill="none"/>
<g fill="#6fc8d3" fill-opacity="0.75"><circle cx="760.97" cy="514.01" r="3"/><circle cx="753.69" cy="513.11" r="3"/><circle cx="746.41" cy="515.09" r="3"/><circle cx="739.13" cy="517.26" r="3"/><circle cx="731.85" cy="514.19" r="3"/><circle cx="724.57" cy="524.83" r="3"/><circle cx="717.29" cy="530.24" r="3"/><circle cx="710.01" cy="533.31" r="3"/><circle cx="702.73" cy="535.47" r="3"/><circle cx="695.45" cy="544.85" r="3"/><circle cx="688.17" cy="544.85" r="3"/><circle cx="680.89" cy="549.54" r="3"/><circle cx="673.61" cy="552.78" r="3"/><circle cx="666.33" cy="556.93" r="3"/><circle cx="659.05" cy="555.49" r="3"/><circle cx="651.77" cy="558.55" r="3"/><circle cx="644.49" cy="556.93" r="3"/><circle cx="637.21" cy="558.01" r="3"/><circle cx="629.93" cy="558.01" r="3"/><circle cx="622.65" cy="621.48" r="3"/><circle cx="615.37" cy="741.21" r="3"/><circle cx="608.09" cy="741.21" r="3"/><circle cx="600.81" cy="741.57" r="3"/><circle cx="593.53" cy="740.67" r="3"/><circle cx="586.25" cy="742.84" r="3"/><circle cx="578.97" cy="737.97" r="3"/><circle cx="571.69" cy="742.3" r="3"/><circle cx="564.41" cy="748.61" r="3"/><circle cx="557.13" cy="764.29" r="3"/><circle cx="549.85" cy="789.36" r="3"/><circle cx="542.57" cy="815.14" r="3"/><circle cx="535.29" cy="831.19" r="3"/><circle cx="528.01" cy="843.27" r="3"/><circle cx="520.73" cy="849.58" r="3"/><circle cx="513.45" cy="859.5" r="3"/><circle cx="506.17" cy="857.7" r="3"/><circle cx="498.89" cy="859.5" r="3"/><circle cx="491.61" cy="862.21" r="3"/><circle cx="484.33" cy="861.31" r="3"/><circle cx="484.33" cy="862.39" r="3"/><circle cx="491.61" cy="863.29" r="3"/><circle cx="498.89" cy="861.31" r="3"/><circle cx="506.17" cy="859.14" r="3"/><circle cx="513.45" cy="862.21" r="3"/><circle cx="520.73" cy="851.57" r="3"/><circle cx="528.01" cy="846.16" r="3"/><circle cx="535.29" cy="843.09" r="3"/><circle cx="542.57" cy="840.93" r="3"/><circle cx="549.85" cy="831.55" r="3"/><circle cx="557.13" cy="831.55" r="3"/><circle cx="564.41" cy="826.86" r="3"/><circle cx="571.69" cy="823.62" r="3"/><circle cx="578.97" cy="819.47" r="3"/><circle cx="586.25" cy="820.91" r="3"/><circle cx="593.53" cy="817.85" r="3"/><circle cx="600.81" cy="819.47" r="3"/><circle cx="608.09" cy="818.39" r="3"/><circle cx="615.37" cy="818.39" r="3"/><circle cx="622.65" cy="754.92" r="3"/><circle cx="629.93" cy="635.19" r="3"/><circle cx="637.21" cy="635.19" r="3"/><circle cx="644.49" cy="634.83" r="3"/><circle cx="651.77" cy="635.73" r="3"/><circle cx="659.05" cy="633.56" r="3"/><circle cx="666.33" cy="638.43" r="3"/><circle cx="673.61" cy="634.1" r="3"/><circle cx="680.89" cy="627.79" r="3"/><circle cx="688.17" cy="612.11" r="3"/><circle cx="695.45" cy="587.04" r="3"/><circle cx="702.73" cy="561.26" r="3"/><circle cx="710.01" cy="545.21" r="3"/><circle cx="717.29" cy="533.13" r="3"/><circle cx="724.57" cy="526.82" r="3"/><circle cx="731.85" cy="516.9" r="3"/><circle cx="739.13" cy="518.7" r="3"/><circle cx="746.41" cy="516.9" r="3"/><circle cx="753.69" cy="514.19" r="3"/><circle cx="760.97" cy="515.09" r="3"/></g>
<path d="M721.2 529.5L720.66 529.9M692 542.19L691.62 542.45M685.11 547.73L683.95 548.82M677.76 548.9L676.74 548M656.18 547.01L654.64 548.64M641.24 547.24L640.46 546.6M629.44 550.46L623.14 604.69M622.4 613.05L615.62 725.12M568.89 731.9L567.21 733.76M561.35 739.76L560.19 740.86M555.36 747.55L551.62 755.62M548.47 763.39L543.95 776.38M541.66 784.44L536.2 808.88M532.78 816.34L530.52 819.35M526.71 826.71L522.03 841.08M517.56 847.83L516.62 848.64M524.1 846.9L524.64 846.5M553.3 834.21L553.68 833.95M560.19 828.67L561.35 827.58M567.54 827.5L568.56 828.4M589.12 829.39L590.66 827.76M604.06 829.16L604.84 829.8M615.86 825.94L622.16 771.71M622.9 763.35L629.68 651.28M676.41 644.5L678.09 642.64M683.95 636.64L685.11 635.54M689.94 628.85L693.68 620.78M696.83 613.01L701.35 600.02M703.64 591.96L709.1 567.52M712.52 560.06L714.78 557.05M718.59 549.69L723.27 535.32M727.74 528.57L728.68 527.76" stroke="#7bb8d8" stroke-width="1.3" fill="none"/>
<g fill="#4fa0cb" fill-opacity="0.75"><circle cx="760.97" cy="512.03" r="3"/><circle cx="753.69" cy="513.11" r="3"/><circle cx="746.41" cy="517.26" r="3"/><circle cx="739.13" cy="519.42" r="3"/><circle cx="731.85" cy="522.67" r="3"/><circle cx="724.57" cy="527" r="3"/><circle cx="717.29" cy="532.41" r="3"/><circle cx="710.01" cy="536.55" r="3"/><circle cx="702.73" cy="537.63" r="3"/><circle cx="695.45" cy="539.8" r="3"/><circle cx="688.17" cy="544.85" r="3"/><circle cx="680.89" cy="551.7" r="3"/><circle cx="673.61" cy="545.21" r="3"/><circle cx="666.33" cy="547.37" r="3"/><circle cx="659.05" cy="543.95" r="3"/><circle cx="651.77" cy="551.7" r="3"/><circle cx="644.49" cy="549.9" r="3"/><circle cx="637.21" cy="543.95" r="3"/><circle cx="629.93" cy="546.29" r="3"/><circle cx="622.65" cy="608.86" r="3"/><circle cx="615.37" cy="729.31" r="3"/><circle cx="608.09" cy="726.07" r="3"/><circle cx="600.81" cy="725.17" r="3"/><circle cx="593.53" cy="725.17" r="3"/><circle cx="586.25" cy="726.61" r="3"/><circle cx="578.97" cy="724.44" r="3"/><circle cx="571.69" cy="728.77" r="3"/><circle cx="564.41" cy="736.89" r="3"/><circle cx="557.13" cy="743.74" r="3"/><circle cx="549.85" cy="759.43" r="3"/><circle cx="542.57" cy="780.34" r="3"/><circle cx="535.29" cy="812.98" r="3"/><circle cx="528.01" cy="822.72" r="3"/><circle cx="520.73" cy="845.08" r="3"/><circle cx="513.45" cy="851.39" r="3"/><circle cx="506.17" cy="854.99" r="3"/><circle cx="498.89" cy="857.7" r="3"/><circle cx="491.61" cy="861.31" r="3"/><circle cx="484.33" cy="863.11" r="3"/><circle cx="484.33" cy="864.37" r="3"/><circle cx="491.61" cy="863.29" r="3"/><circle cx="498.89" cy="859.14" r="3"/><circle cx="506.17" cy="856.98" r="3"/><circle cx="513.45" cy="853.73" r="3"/><circle cx="520.73" cy="849.4" r="3"/><circle cx="528.01" cy="843.99" r="3"/><circle cx="535.29" cy="839.85" r="3"/><circle cx="542.57" cy="838.77" r="3"/><circle cx="549.85" cy="836.6" r="3"/><circle cx="557.13" cy="831.55" r="3"/><circle cx="564.41" cy="824.7" r="3"/><circle cx="571.69" cy="831.19" r="3"/><circle cx="578.97" cy="829.03" r="3"/><circle cx="586.25" cy="832.45" r="3"/><circle cx="593.53" cy="824.7" r="3"/><circle cx="600.81" cy="826.5" r="3"/><circle cx="608.09" cy="832.45" r="3"/><circle cx="615.37" cy="830.11" r="3"/><circle cx="622.65" cy="767.54" r="3"/><circle cx="629.93" cy="647.09" r="3"/><circle cx="637.21" cy="650.33" r="3"/><circle cx="644.49" cy="651.23" r="3"/><circle cx="651.77" cy="651.23" r="3"/><circle cx="659.05" cy="649.79" r="3"/><circle cx="666.33" cy="651.96" r="3"/><circle cx="673.61" cy="647.63" r="3"/><circle cx="680.89" cy="639.51" r="3"/><circle cx="688.17" cy="632.66" r="3"/><circle cx="695.45" cy="616.97" r="3"/><circle cx="702.73" cy="596.06" r="3"/><circle cx="710.01" cy="563.42" r="3"/><circle cx="717.29" cy="553.68" r="3"/><circle cx="724.57" cy="531.32" r="3"/><circle cx="731.85" cy="525.01" r="3"/><circle cx="739.13" cy="521.41" r="3"/><circle cx="746.41" cy="518.7" r="3"/><circle cx="753.69" cy="515.09" r="3"/><circle cx="760.97" cy="513.29" r="3"/></g>
<path d="M759.02 516.83L755.64 523.28M750.32 524.49L749.78 524.09M743.28 524.38L742.26 525.28M728.94 526.78L727.48 528.3M721.4 534.07L720.46 534.88M693.67 542.52L689.95 550.42M678.25 554.97L676.25 557.45M648.6 554.45L647.66 555.26M641.75 554.82L639.95 552.72M629.33 553.69L623.25 595.69M622.36 604.03L615.66 701.68M569.18 698.42L566.92 701.43M561.46 707.78L560.08 709.19M555.94 716.21L551.04 732.86M548.98 740.99L543.44 767.04M541.72 775.26L536.14 802.38M534.19 810.54L529.11 829.3M525.64 836.82L523.1 840.53M517.6 846.79L516.58 847.69M503 849.63L502.06 850.44M489.51 852.32L486.43 857.67M486.28 859.57L489.66 853.12M494.98 851.91L495.52 852.31M502.02 852.02L503.04 851.12M516.36 849.62L517.82 848.1M523.9 842.33L524.84 841.52M551.63 833.88L555.35 825.98M567.05 821.43L569.05 818.95M596.7 821.95L597.64 821.14M603.55 821.58L605.35 823.68M615.97 822.71L622.05 780.71M622.94 772.37L629.64 674.72M676.12 677.98L678.38 674.97M683.84 668.62L685.22 667.21M689.36 660.19L694.26 643.54M696.32 635.41L701.86 609.36M703.58 601.14L709.16 574.02M711.11 565.86L716.19 547.1M719.66 539.58L722.2 535.87M727.7 529.61L728.72 528.71M742.3 526.77L743.24 525.96M755.79 524.08L758.87 518.73" stroke="#7090cc" stroke-width="1.3" fill="none"/>
<g fill="#406bbb" fill-opacity="0.75"><circle cx="760.97" cy="513.11" r="3"/><circle cx="753.69" cy="527" r="3"/><circle cx="746.41" cy="521.59" r="3"/><circle cx="739.13" cy="528.08" r="3"/><circle cx="731.85" cy="523.75" r="3"/><circle cx="724.57" cy="531.32" r="3"/><circle cx="717.29" cy="537.63" r="3"/><circle cx="710.01" cy="539.8" r="3"/><circle cx="702.73" cy="537.63" r="3"/><circle cx="695.45" cy="538.72" r="3"/><circle cx="688.17" cy="554.22" r="3"/><circle cx="680.89" cy="551.7" r="3"/><circle cx="673.61" cy="560.72" r="3"/><circle cx="666.33" cy="560.17" r="3"/><circle cx="659.05" cy="555.85" r="3"/><circle cx="651.77" cy="551.7" r="3"/><circle cx="644.49" cy="558.01" r="3"/><circle cx="637.21" cy="549.54" r="3"/><circle cx="629.93" cy="549.54" r="3"/><circle cx="622.65" cy="599.84" r="3"/><circle cx="615.37" cy="705.87" r="3"/><circle cx="608.09" cy="702.63" r="3"/><circle cx="600.81" cy="698.3" r="3"/><circle cx="593.53" cy="695.05" r="3"/><circle cx="586.25" cy="693.61" r="3"/><circle cx="578.97" cy="690.72" r="3"/><circle cx="571.69" cy="695.05" r="3"/><circle cx="564.41" cy="704.79" r="3"/><circle cx="557.13" cy="712.18" r="3"/><circle cx="549.85" cy="736.89" r="3"/><circle cx="542.57" cy="771.15" r="3"/><circle cx="535.29" cy="806.49" r="3"/><circle cx="528.01" cy="833.36" r="3"/><circle cx="520.73" cy="843.99" r="3"/><circle cx="513.45" cy="850.49" r="3"/><circle cx="506.17" cy="846.88" r="3"/><circle cx="498.89" cy="853.19" r="3"/><circle cx="491.61" cy="848.68" r="3"/><circle cx="484.33" cy="861.31" r="3"/><circle cx="484.33" cy="863.29" r="3"/><circle cx="491.61" cy="849.4" r="3"/><circle cx="498.89" cy="854.81" r="3"/><circle cx="506.17" cy="848.32" r="3"/><circle cx="513.45" cy="852.65" r="3"/><circle cx="520.73" cy="845.08" r="3"/><circle cx="528.01" cy="838.77" r="3"/><circle cx="535.29" cy="836.6" r="3"/><circle cx="542.57" cy="838.77" r="3"/><circle cx="549.85" cy="837.68" r="3"/><circle cx="557.13" cy="822.18" r="3"/><circle cx="564.41" cy="824.7" r="3"/><circle cx="571.69" cy="815.68" r="3"/><circle cx="578.97" cy="816.23" r="3"/><circle cx="586.25" cy="820.55" r="3"/><circle cx="593.53" cy="824.7" r="3"/><circle cx="600.81" cy="818.39" r="3"/><circle cx="608.09" cy="826.86" r="3"/><circle cx="615.37" cy="826.86" r="3"/><circle cx="622.65" cy="776.56" r="3"/><circle cx="629.93" cy="670.53" r="3"/><circle cx="637.21" cy="673.77" r="3"/><circle cx="644.49" cy="678.1" r="3"/><circle cx="651.77" cy="681.35" r="3"/><circle cx="659.05" cy="682.79" r="3"/><circle cx="666.33" cy="685.68" r="3"/><circle cx="673.61" cy="681.35" r="3"/><circle cx="680.89" cy="671.61" r="3"/><circle cx="688.17" cy="664.22" r="3"/><circle cx="695.45" cy="639.51" r="3"/><circle cx="702.73" cy="605.25" r="3"/><circle cx="710.01" cy="569.91" r="3"/><circle cx="717.29" cy="543.04" r="3"/><circle cx="724.57" cy="532.41" r="3"/><circle cx="731.85" cy="525.91" r="3"/><circle cx="739.13" cy="529.52" r="3"/><circle cx="746.41" cy="523.21" r="3"/><circle cx="753.69" cy="527.72" r="3"/><circle cx="760.97" cy="515.09" r="3"/></g>
<path d="M758.6 515.96L756.06 512.25M751.32 512.25L748.78 515.96M743.24 516.67L742.3 515.86M736.39 516.3L734.59 518.4M728.48 524.09L727.94 524.49M685.15 535.68L683.91 536.88M670.77 540.31L669.17 538.57M629.38 541.26L623.2 588.47M622.38 596.82L615.64 702.22M604.72 710.36L604.18 710.76M582.96 711.02L582.26 710.46M576.7 711.39L573.96 715.68M568.2 716.88L567.9 716.68M561.57 717.44L559.97 719.19M555.05 725.93L551.93 731.43M547.92 738.81L544.5 745.42M541.23 753.13L536.63 766.8M533.9 774.75L529.4 787.56M526.93 795.58L521.81 814.69M519.38 822.73L514.8 836.23M510.84 843.5L508.78 846.11M502.84 851.96L502.22 852.44M496.4 858.38L494.1 861.53M488.97 861.64L486.97 859.16M486.7 860.44L489.24 864.15M493.98 864.15L496.52 860.44M502.06 859.73L503 860.54M508.91 860.1L510.71 858M516.82 852.31L517.36 851.91M560.15 840.72L561.39 839.52M574.53 836.09L576.13 837.83M615.92 835.14L622.1 787.93M622.92 779.58L629.66 674.18M640.58 666.04L641.12 665.64M662.34 665.38L663.04 665.94M668.6 665.01L671.34 660.72M677.1 659.52L677.4 659.72M683.73 658.96L685.33 657.21M690.25 650.47L693.37 644.97M697.38 637.59L700.8 630.98M704.07 623.27L708.67 609.6M711.4 601.65L715.9 588.84M718.37 580.82L723.49 561.71M725.92 553.67L730.5 540.17M734.46 532.9L736.52 530.29M742.46 524.44L743.08 523.96M748.9 518.02L751.2 514.87M756.33 514.76L758.33 517.24" stroke="#5a66b0" stroke-width="1.3" fill="none"/>
<g fill="#233396" fill-opacity="0.75"><circle cx="760.97" cy="519.42" r="3"/><circle cx="753.69" cy="508.78" r="3"/><circle cx="746.41" cy="519.42" r="3"/><circle cx="739.13" cy="513.11" r="3"/><circle cx="731.85" cy="521.59" r="3"/><circle cx="724.57" cy="527" r="3"/><circle cx="717.29" cy="531.32" r="3"/><circle cx="710.01" cy="532.41" r="3"/><circle cx="702.73" cy="528.08" r="3"/><circle cx="695.45" cy="531.32" r="3"/><circle cx="688.17" cy="532.77" r="3"/><circle cx="680.89" cy="539.8" r="3"/><circle cx="673.61" cy="543.4" r="3"/><circle cx="666.33" cy="535.47" r="3"/><circle cx="659.05" cy="538.72" r="3"/><circle cx="651.77" cy="539.26" r="3"/><circle cx="644.49" cy="543.4" r="3"/><circle cx="637.21" cy="538.72" r="3"/><circle cx="629.93" cy="537.09" r="3"/><circle cx="622.65" cy="592.63" r="3"/><circle cx="615.37" cy="706.41" r="3"/><circle cx="608.09" cy="707.85" r="3"/><circle cx="600.81" cy="713.26" r="3"/><circle cx="593.53" cy="714.35" r="3"/><circle cx="586.25" cy="713.62" r="3"/><circle cx="578.97" cy="707.85" r="3"/><circle cx="571.69" cy="719.21" r="3"/><circle cx="564.41" cy="714.35" r="3"/><circle cx="557.13" cy="722.28" r="3"/><circle cx="549.85" cy="735.08" r="3"/><circle cx="542.57" cy="749.15" r="3"/><circle cx="535.29" cy="770.79" r="3"/><circle cx="528.01" cy="791.52" r="3"/><circle cx="520.73" cy="818.75" r="3"/><circle cx="513.45" cy="840.21" r="3"/><circle cx="506.17" cy="849.4" r="3"/><circle cx="498.89" cy="854.99" r="3"/><circle cx="491.61" cy="864.91" r="3"/><circle cx="484.33" cy="855.9" r="3"/><circle cx="484.33" cy="856.98" r="3"/><circle cx="491.61" cy="867.62" r="3"/><circle cx="498.89" cy="856.98" r="3"/><circle cx="506.17" cy="863.29" r="3"/><circle cx="513.45" cy="854.81" r="3"/><circle cx="520.73" cy="849.4" r="3"/><circle cx="528.01" cy="845.08" r="3"/><circle cx="535.29" cy="843.99" r="3"/><circle cx="542.57" cy="848.32" r="3"/><circle cx="549.85" cy="845.08" r="3"/><circle cx="557.13" cy="843.63" r="3"/><circle cx="564.41" cy="836.6" r="3"/><circle cx="571.69" cy="833" r="3"/><circle cx="578.97" cy="840.93" r="3"/><circle cx="586.25" cy="837.68" r="3"/><circle cx="593.53" cy="837.14" r="3"/><circle cx="600.81" cy="833" r="3"/><circle cx="608.09" cy="837.68" r="3"/><circle cx="615.37" cy="839.31" r="3"/><circle cx="622.65" cy="783.77" r="3"/><circle cx="629.93" cy="669.99" r="3"/><circle cx="637.21" cy="668.55" r="3"/><circle cx="644.49" cy="663.14" r="3"/><circle cx="651.77" cy="662.05" r="3"/><circle cx="659.05" cy="662.78" r="3"/><circle cx="666.33" cy="668.55" r="3"/><circle cx="673.61" cy="657.19" r="3"/><circle cx="680.89" cy="662.05" r="3"/><circle cx="688.17" cy="654.12" r="3"/><circle cx="695.45" cy="641.32" r="3"/><circle cx="702.73" cy="627.25" r="3"/><circle cx="710.01" cy="605.61" r="3"/><circle cx="717.29" cy="584.88" r="3"/><circle cx="724.57" cy="557.65" r="3"/><circle cx="731.85" cy="536.19" r="3"/><circle cx="739.13" cy="527" r="3"/><circle cx="746.41" cy="521.41" r="3"/><circle cx="753.69" cy="511.49" r="3"/><circle cx="760.97" cy="520.5" r="3"/></g>
<path d="M750.71 510.84L749.39 512.14M721.66 522.45L720.2 523.97M700.78 525.31L697.4 531.75M692.9 532.13L690.72 529.25M685.11 528.79L683.95 529.89M670.55 530.96L669.39 532.05M629.27 536.91L623.31 574.06M622.37 582.4L615.65 683.29M597.36 690.95L596.98 691.22M568.85 689.49L567.25 691.24M555.01 699.76L551.97 704.95M540.06 716.63L537.8 719.64M533.88 726.96L529.42 739.42M526.79 747.4L521.95 763.34M519.69 771.43L514.49 791.78M512.16 799.85L507.46 814.39M504.76 822.34L500.3 834.81M497.15 842.59L493.35 850.99M484.33 861.18L484.33 863.42M494.59 865.56L495.91 864.26M523.64 853.95L525.1 852.43M544.52 851.09L547.9 844.65M552.4 844.27L554.58 847.15M560.19 847.61L561.35 846.51M574.75 845.44L575.91 844.35M616.03 839.49L621.99 802.34M622.93 794L629.65 693.11M647.94 685.45L648.32 685.18M676.45 686.91L678.05 685.16M690.29 676.64L693.33 671.45M705.24 659.77L707.5 656.76M711.42 649.44L715.88 636.98M718.51 629L723.35 613.06M725.61 604.97L730.81 584.62M733.14 576.55L737.84 562.01M740.54 554.06L745 541.59M748.15 533.81L751.95 525.41" stroke="#3c4889" stroke-width="1.3" fill="none"/>
<g fill="#000b62" fill-opacity="0.75"><circle cx="760.97" cy="508.78" r="3"/><circle cx="753.69" cy="507.88" r="3"/><circle cx="746.41" cy="515.09" r="3"/><circle cx="739.13" cy="519.42" r="3"/><circle cx="731.85" cy="520.5" r="3"/><circle cx="724.57" cy="519.42" r="3"/><circle cx="717.29" cy="527" r="3"/><circle cx="710.01" cy="526.27" r="3"/><circle cx="702.73" cy="521.59" r="3"/><circle cx="695.45" cy="535.47" r="3"/><circle cx="688.17" cy="525.91" r="3"/><circle cx="680.89" cy="532.77" r="3"/><circle cx="673.61" cy="528.08" r="3"/><circle cx="666.33" cy="534.93" r="3"/><circle cx="659.05" cy="532.77" r="3"/><circle cx="651.77" cy="528.62" r="3"/><circle cx="644.49" cy="531.68" r="3"/><circle cx="637.21" cy="531.32" r="3"/><circle cx="629.93" cy="532.77" r="3"/><circle cx="622.65" cy="578.21" r="3"/><circle cx="615.37" cy="687.48" r="3"/><circle cx="608.09" cy="688.56" r="3"/><circle cx="600.81" cy="688.56" r="3"/><circle cx="593.53" cy="693.61" r="3"/><circle cx="586.25" cy="689.28" r="3"/><circle cx="578.97" cy="689.64" r="3"/><circle cx="571.69" cy="686.4" r="3"/><circle cx="564.41" cy="694.33" r="3"/><circle cx="557.13" cy="696.13" r="3"/><circle cx="549.85" cy="708.58" r="3"/><circle cx="542.57" cy="713.26" r="3"/><circle cx="535.29" cy="723" r="3"/><circle cx="528.01" cy="743.38" r="3"/><circle cx="520.73" cy="767.36" r="3"/><circle cx="513.45" cy="795.85" r="3"/><circle cx="506.17" cy="818.39" r="3"/><circle cx="498.89" cy="838.77" r="3"/><circle cx="491.61" cy="854.81" r="3"/><circle cx="484.33" cy="856.98" r="3"/><circle cx="484.33" cy="867.62" r="3"/><circle cx="491.61" cy="868.52" r="3"/><circle cx="498.89" cy="861.31" r="3"/><circle cx="506.17" cy="856.98" r="3"/><circle cx="513.45" cy="855.9" r="3"/><circle cx="520.73" cy="856.98" r="3"/><circle cx="528.01" cy="849.4" r="3"/><circle cx="535.29" cy="850.13" r="3"/><circle cx="542.57" cy="854.81" r="3"/><circle cx="549.85" cy="840.93" r="3"/><circle cx="557.13" cy="850.49" r="3"/><circle cx="564.41" cy="843.63" r="3"/><circle cx="571.69" cy="848.32" r="3"/><circle cx="578.97" cy="841.47" r="3"/><circle cx="586.25" cy="843.63" r="3"/><circle cx="593.53" cy="847.78" r="3"/><circle cx="600.81" cy="844.72" r="3"/><circle cx="608.09" cy="845.08" r="3"/><circle cx="615.37" cy="843.63" r="3"/><circle cx="622.65" cy="798.19" r="3"/><circle cx="629.93" cy="688.92" r="3"/><circle cx="637.21" cy="687.84" r="3"/><circle cx="644.49" cy="687.84" r="3"/><circle cx="651.77" cy="682.79" r="3"/><circle cx="659.05" cy="687.12" r="3"/><circle cx="666.33" cy="686.76" r="3"/><circle cx="673.61" cy="690" r="3"/><circle cx="680.89" cy="682.07" r="3"/><circle cx="688.17" cy="680.27" r="3"/><circle cx="695.45" cy="667.82" r="3"/><circle cx="702.73" cy="663.14" r="3"/><circle cx="710.01" cy="653.4" r="3"/><circle cx="717.29" cy="633.02" r="3"/><circle cx="724.57" cy="609.04" r="3"/><circle cx="731.85" cy="580.55" r="3"/><circle cx="739.13" cy="558.01" r="3"/><circle cx="746.41" cy="537.63" r="3"/><circle cx="753.69" cy="521.59" r="3"/><circle cx="760.97" cy="519.42" r="3"/></g>
<rect x="477.05" y="489.85" width="291.2" height="396.7" fill="none" stroke="#000" stroke-width="1.7"/>
<path d="M477.05 886.55v7M484.33 886.55v3.9M491.61 886.55v3.9M498.89 886.55v3.9M506.17 886.55v3.9M513.45 886.55v7M520.73 886.55v3.9M528.01 886.55v3.9M535.29 886.55v3.9M542.57 886.55v3.9M549.85 886.55v7M557.13 886.55v3.9M564.41 886.55v3.9M571.69 886.55v3.9M578.97 886.55v3.9M586.25 886.55v7M593.53 886.55v3.9M600.81 886.55v3.9M608.09 886.55v3.9M615.37 886.55v3.9M622.65 886.55v7M629.93 886.55v3.9M637.21 886.55v3.9M644.49 886.55v3.9M651.77 886.55v3.9M659.05 886.55v7M666.33 886.55v3.9M673.61 886.55v3.9M680.89 886.55v3.9M688.17 886.55v3.9M695.45 886.55v7M702.73 886.55v3.9M710.01 886.55v3.9M717.29 886.55v3.9M724.57 886.55v3.9M731.85 886.55v7M739.13 886.55v3.9M746.41 886.55v3.9M753.69 886.55v3.9M760.97 886.55v3.9M768.25 886.55v7M477.05 886.55h-4M477.05 868.52h-7.6M477.05 850.49h-4M477.05 832.45h-4M477.05 814.42h-4M477.05 796.39h-4M477.05 778.36h-7.6M477.05 760.33h-4M477.05 742.3h-4M477.05 724.26h-4M477.05 706.23h-4M477.05 688.2h-7.6M477.05 670.17h-4M477.05 652.14h-4M477.05 634.1h-4M477.05 616.07h-4M477.05 598.04h-7.6M477.05 580.01h-4M477.05 561.98h-4M477.05 543.95h-4M477.05 525.91h-4M477.05 507.88h-7.6M477.05 489.85h-4" stroke="#000" stroke-width="1.7" fill="none"/>
<text x="477.05" y="912.75" text-anchor="middle" font-size="16.7">-2.0</text>
<text x="513.45" y="912.75" text-anchor="middle" font-size="16.7">-1.5</text>
<text x="549.85" y="912.75" text-anchor="middle" font-size="16.7">-1.0</text>
<text x="586.25" y="912.75" text-anchor="middle" font-size="16.7">-0.5</text>
<text x="622.65" y="912.75" text-anchor="middle" font-size="16.7">0.0</text>
<text x="659.05" y="912.75" text-anchor="middle" font-size="16.7">0.5</text>
<text x="695.45" y="912.75" text-anchor="middle" font-size="16.7">1.0</text>
<text x="731.85" y="912.75" text-anchor="middle" font-size="16.7">1.5</text>
<text x="768.25" y="912.75" text-anchor="middle" font-size="16.7">2.0</text>
<text x="463.45" y="873.32" text-anchor="end" font-size="16.7">-1.0</text>
<text x="463.45" y="783.16" text-anchor="end" font-size="16.7">-0.5</text>
<text x="463.45" y="693" text-anchor="end" font-size="16.7">0.0</text>
<text x="463.45" y="602.84" text-anchor="end" font-size="16.7">0.5</text>
<text x="463.45" y="512.68" text-anchor="end" font-size="16.7">1.0</text>
<text x="622.65" y="944.55" text-anchor="middle" font-size="20.3"><tspan font-weight="bold" font-style="italic">B</tspan> (T)</text>
<g transform="translate(421.65 688.2) rotate(-90)"><path d="M-58.1 0.35H-48.6" stroke="#000" stroke-width="1.05" fill="none"/><path d="M-58 0.3L-48.9 -12.3" stroke="#000" stroke-width="1.0" fill="none"/><path d="M-48.85 0.9V-12.7" stroke="#000" stroke-width="2.1" fill="none"/><text x="-45.7" y="0" font-size="20.5"><tspan font-style="italic">A</tspan><tspan font-size="13.8" dy="6">MChD</tspan><tspan dy="-6" dx="-1.6"> (a.u.)</tspan></text></g>
<text x="12.6" y="27.3" font-size="26.5">a</text>
<text x="408.7" y="26.1" font-size="26.5">b</text>
<text x="12.1" y="502.7" font-size="27.4">c</text>
<text x="410.1" y="502.9" font-size="25.8">d</text>
<text x="87.3" y="33.9" font-size="16.7" font-weight="bold" text-anchor="start">Dy-<tspan font-style="italic">R</tspan></text>
<text x="757" y="33.9" font-size="16.7" font-weight="bold" text-anchor="end">Dy-<tspan font-style="italic">R</tspan></text>
<text x="362.5" y="510.9" font-size="16.7" font-weight="bold" text-anchor="end">Dy-<tspan font-style="italic">S</tspan></text>
<text x="485.3" y="511.6" font-size="16.7" font-weight="bold" text-anchor="start">Dy-<tspan font-style="italic">S</tspan></text>
<text x="86.55" y="61.2" fill="#185a36" font-size="17"><tspan font-size="11.3" dy="-6.5">6</tspan><tspan font-style="italic" dy="6.5">H</tspan><tspan font-size="11.3" dy="5">15/2</tspan></text><path d="M132.3 57.3H147.3" stroke="#185a36" stroke-width="1.2" fill="none"/><path d="M144 54.3Q145.3 56.5 148.2 57.3Q145.3 58.1 144 60.3L144.9 57.3Z" fill="#185a36" stroke="#185a36" stroke-width="0.6" stroke-linejoin="round"/><text x="153.55" y="61.2" fill="#185a36" font-size="17"><tspan font-size="11.3" dy="-6.5">4</tspan><tspan font-style="italic" dy="6.5">I</tspan><tspan font-size="11.3" dy="5">15/2</tspan></text>
<text x="658.95" y="61.1" fill="#222c7c" font-size="17"><tspan font-size="11.3" dy="-6.5">6</tspan><tspan font-style="italic" dy="6.5">H</tspan><tspan font-size="11.3" dy="5">15/2</tspan></text><path d="M704.7 57.2H719.7" stroke="#222c7c" stroke-width="1.2" fill="none"/><path d="M716.4 54.2Q717.7 56.4 720.6 57.2Q717.7 58 716.4 60.2L717.3 57.2Z" fill="#222c7c" stroke="#222c7c" stroke-width="0.6" stroke-linejoin="round"/><text x="725.95" y="61.1" fill="#222c7c" font-size="17"><tspan font-size="11.3" dy="-6.5">6</tspan><tspan font-style="italic" dy="6.5">F</tspan><tspan font-size="11.3" dy="5">7/2</tspan></text>
<text x="265.85" y="538.1" fill="#185a36" font-size="17"><tspan font-size="11.3" dy="-6.5">6</tspan><tspan font-style="italic" dy="6.5">H</tspan><tspan font-size="11.3" dy="5">15/2</tspan></text><path d="M311.6 534.2H326.6" stroke="#185a36" stroke-width="1.2" fill="none"/><path d="M323.3 531.2Q324.6 533.4 327.5 534.2Q324.6 535 323.3 537.2L324.2 534.2Z" fill="#185a36" stroke="#185a36" stroke-width="0.6" stroke-linejoin="round"/><text x="332.85" y="538.1" fill="#185a36" font-size="17"><tspan font-size="11.3" dy="-6.5">4</tspan><tspan font-style="italic" dy="6.5">I</tspan><tspan font-size="11.3" dy="5">15/2</tspan></text>
<text x="485.45" y="541.1" fill="#222c7c" font-size="17"><tspan font-size="11.3" dy="-6.5">6</tspan><tspan font-style="italic" dy="6.5">H</tspan><tspan font-size="11.3" dy="5">15/2</tspan></text><path d="M531.2 537.2H546.2" stroke="#222c7c" stroke-width="1.2" fill="none"/><path d="M542.9 534.2Q544.2 536.4 547.1 537.2Q544.2 538 542.9 540.2L543.8 537.2Z" fill="#222c7c" stroke="#222c7c" stroke-width="0.6" stroke-linejoin="round"/><text x="552.45" y="541.1" fill="#222c7c" font-size="17"><tspan font-size="11.3" dy="-6.5">6</tspan><tspan font-style="italic" dy="6.5">F</tspan><tspan font-size="11.3" dy="5">7/2</tspan></text>
<text x="362.4" y="233" font-size="16.7" text-anchor="end"><tspan font-style="italic">T</tspan> = 3.0 K</text>
<text x="483.3" y="234.5" font-size="16.7" text-anchor="start"><tspan font-style="italic">T</tspan> = 3.0 K</text>
<text x="761.4" y="709.9" font-size="16.7" text-anchor="end"><tspan font-style="italic">T</tspan> = 3.0 K</text>
<path d="M259.3 324.3h30.4" stroke="#c5ecd5" stroke-width="1.5"/><circle cx="274.3" cy="324.3" r="3.1" fill="#c5ecd5"/>
<text x="300.4" y="328.9" font-size="12.95">800 Oe s<tspan font-size="8.5" dy="-5.5">-1</tspan></text>
<path d="M259.3 340.63h30.4" stroke="#9fe0b8" stroke-width="1.5"/><circle cx="274.3" cy="340.63" r="3.1" fill="#9fe0b8"/>
<text x="293.2" y="345.23" font-size="12.95">1600 Oe s<tspan font-size="8.5" dy="-5.5">-1</tspan></text>
<path d="M259.3 356.96h30.4" stroke="#7dd4a0" stroke-width="1.5"/><circle cx="274.3" cy="356.96" r="3.1" fill="#7dd4a0"/>
<text x="293.2" y="361.56" font-size="12.95">2400 Oe s<tspan font-size="8.5" dy="-5.5">-1</tspan></text>
<path d="M259.3 373.29h30.4" stroke="#2a8a50" stroke-width="1.5"/><circle cx="274.3" cy="373.29" r="3.1" fill="#2a8a50"/>
<text x="293.2" y="377.89" font-size="12.95">3200 Oe s<tspan font-size="8.5" dy="-5.5">-1</tspan></text>
<path d="M259.3 389.62h30.4" stroke="#1c6037" stroke-width="1.5"/><circle cx="274.3" cy="389.62" r="3.1" fill="#1c6037"/>
<text x="293.2" y="394.22" font-size="12.95">8000 Oe s<tspan font-size="8.5" dy="-5.5">-1</tspan></text>
<path d="M482.3 322.9h30.4" stroke="#93d6de" stroke-width="1.5"/><circle cx="497.3" cy="322.9" r="3.1" fill="#93d6de"/>
<text x="523.4" y="327.5" font-size="12.95">800 Oe s<tspan font-size="8.5" dy="-5.5">-1</tspan></text>
<path d="M482.3 340.9h30.4" stroke="#7bb8d8" stroke-width="1.5"/><circle cx="497.3" cy="340.9" r="3.1" fill="#7bb8d8"/>
<text x="516.2" y="345.5" font-size="12.95">1600 Oe s<tspan font-size="8.5" dy="-5.5">-1</tspan></text>
<path d="M482.3 358.9h30.4" stroke="#7090cc" stroke-width="1.5"/><circle cx="497.3" cy="358.9" r="3.1" fill="#7090cc"/>
<text x="516.2" y="363.5" font-size="12.95">2400 Oe s<tspan font-size="8.5" dy="-5.5">-1</tspan></text>
<path d="M482.3 376.9h30.4" stroke="#5a66b0" stroke-width="1.5"/><circle cx="497.3" cy="376.9" r="3.1" fill="#5a66b0"/>
<text x="516.2" y="381.5" font-size="12.95">3200 Oe s<tspan font-size="8.5" dy="-5.5">-1</tspan></text>
<path d="M482.3 394.9h30.4" stroke="#3c4889" stroke-width="1.5"/><circle cx="497.3" cy="394.9" r="3.1" fill="#3c4889"/>
<text x="516.2" y="399.5" font-size="12.95">8000 Oe s<tspan font-size="8.5" dy="-5.5">-1</tspan></text>
<path d="M87.9 800.9h30.4" stroke="#c5ecd5" stroke-width="1.5"/><circle cx="102.9" cy="800.9" r="3.1" fill="#c5ecd5"/>
<text x="129" y="805.5" font-size="12.95">800 Oe s<tspan font-size="8.5" dy="-5.5">-1</tspan></text>
<path d="M87.9 817.4h30.4" stroke="#9fe0b8" stroke-width="1.5"/><circle cx="102.9" cy="817.4" r="3.1" fill="#9fe0b8"/>
<text x="121.8" y="822" font-size="12.95">1600 Oe s<tspan font-size="8.5" dy="-5.5">-1</tspan></text>
<path d="M87.9 833.9h30.4" stroke="#7dd4a0" stroke-width="1.5"/><circle cx="102.9" cy="833.9" r="3.1" fill="#7dd4a0"/>
<text x="121.8" y="838.5" font-size="12.95">2400 Oe s<tspan font-size="8.5" dy="-5.5">-1</tspan></text>
<path d="M87.9 850.4h30.4" stroke="#2a8a50" stroke-width="1.5"/><circle cx="102.9" cy="850.4" r="3.1" fill="#2a8a50"/>
<text x="121.8" y="855" font-size="12.95">3200 Oe s<tspan font-size="8.5" dy="-5.5">-1</tspan></text>
<path d="M87.9 866.9h30.4" stroke="#1c6037" stroke-width="1.5"/><circle cx="102.9" cy="866.9" r="3.1" fill="#1c6037"/>
<text x="121.8" y="871.5" font-size="12.95">8000 Oe s<tspan font-size="8.5" dy="-5.5">-1</tspan></text>
<path d="M657.9 799.7h30.4" stroke="#93d6de" stroke-width="1.5"/><circle cx="672.9" cy="799.7" r="3.1" fill="#93d6de"/>
<text x="699" y="804.3" font-size="12.95">800 Oe s<tspan font-size="8.5" dy="-5.5">-1</tspan></text>
<path d="M657.9 817.7h30.4" stroke="#7bb8d8" stroke-width="1.5"/><circle cx="672.9" cy="817.7" r="3.1" fill="#7bb8d8"/>
<text x="691.8" y="822.3" font-size="12.95">1600 Oe s<tspan font-size="8.5" dy="-5.5">-1</tspan></text>
<path d="M657.9 835.7h30.4" stroke="#7090cc" stroke-width="1.5"/><circle cx="672.9" cy="835.7" r="3.1" fill="#7090cc"/>
<text x="691.8" y="840.3" font-size="12.95">2400 Oe s<tspan font-size="8.5" dy="-5.5">-1</tspan></text>
<path d="M657.9 853.7h30.4" stroke="#5a66b0" stroke-width="1.5"/><circle cx="672.9" cy="853.7" r="3.1" fill="#5a66b0"/>
<text x="691.8" y="858.3" font-size="12.95">3200 Oe s<tspan font-size="8.5" dy="-5.5">-1</tspan></text>
<path d="M657.9 871.7h30.4" stroke="#3c4889" stroke-width="1.5"/><circle cx="672.9" cy="871.7" r="3.1" fill="#3c4889"/>
<text x="691.8" y="876.3" font-size="12.95">8000 Oe s<tspan font-size="8.5" dy="-5.5">-1</tspan></text>
</svg>
</body></html>
